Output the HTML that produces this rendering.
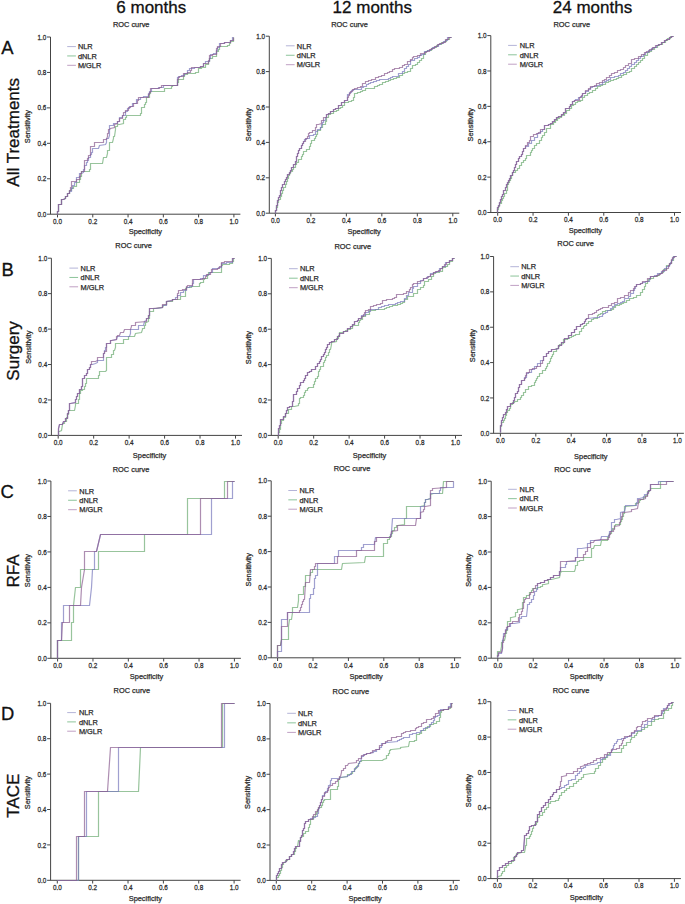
<!DOCTYPE html><html><head><meta charset="utf-8"><style>html,body{margin:0;padding:0;background:#fff;width:685px;height:904px;overflow:hidden}svg{display:block}text{font-family:"Liberation Sans", sans-serif}.s{stroke:#2a2a2a;stroke-width:0.25px}</style></head><body>
<svg width="685" height="904" viewBox="0 0 685 904">
<rect width="685" height="904" fill="#fff"/>
<text x="151.3" y="12.6" font-size="17" text-anchor="middle" fill="#111" stroke="#111" stroke-width="0.3">6 months</text>
<text x="372.3" y="12.6" font-size="17" text-anchor="middle" fill="#111" stroke="#111" stroke-width="0.3">12 months</text>
<text x="592.5" y="12.6" font-size="17" text-anchor="middle" fill="#111" stroke="#111" stroke-width="0.3">24 months</text>
<text x="1.2" y="54.1" font-size="18.4" fill="#111" stroke="#111" stroke-width="0.3">A</text>
<text x="1.5" y="276.0" font-size="18.4" fill="#111" stroke="#111" stroke-width="0.3">B</text>
<text x="0.6" y="497.6" font-size="18.4" fill="#111" stroke="#111" stroke-width="0.3">C</text>
<text x="0.9" y="719.6" font-size="18.4" fill="#111" stroke="#111" stroke-width="0.3">D</text>
<text transform="translate(19.2,132.3) rotate(-90)" x="0" y="0" font-size="17" text-anchor="middle" fill="#111" stroke="#111" stroke-width="0.3">All Treatments</text>
<text transform="translate(19.2,350.9) rotate(-90)" x="0" y="0" font-size="17" text-anchor="middle" fill="#111" stroke="#111" stroke-width="0.3">Surgery</text>
<text transform="translate(19.2,571.0) rotate(-90)" x="0" y="0" font-size="17" text-anchor="middle" fill="#111" stroke="#111" stroke-width="0.3">RFA</text>
<text transform="translate(19.2,795.6) rotate(-90)" x="0" y="0" font-size="17" text-anchor="middle" fill="#111" stroke="#111" stroke-width="0.3">TACE</text>
<g><path d="M50.5 37.0V214.2M47.0 214.2H240.4" stroke="#444" stroke-width="1" fill="none"/><path d="M57.50 214.2V217.39999999999998M47.0 178.76H50.5M92.78 214.2V217.39999999999998M47.0 143.32H50.5M128.06 214.2V217.39999999999998M47.0 107.88H50.5M163.34 214.2V217.39999999999998M47.0 72.44H50.5M198.62 214.2V217.39999999999998M47.0 37.00H50.5M233.90 214.2V217.39999999999998" stroke="#444" stroke-width="1" fill="none"/><text transform="translate(46.30,216.80) scale(0.84,1)" font-size="7.6" text-anchor="end" fill="#2a2a2a" class="s">0.0</text><text transform="translate(57.50,224.00) scale(0.84,1)" font-size="7.6" text-anchor="middle" fill="#2a2a2a" class="s">0.0</text><text transform="translate(46.30,181.36) scale(0.84,1)" font-size="7.6" text-anchor="end" fill="#2a2a2a" class="s">0.2</text><text transform="translate(92.78,224.00) scale(0.84,1)" font-size="7.6" text-anchor="middle" fill="#2a2a2a" class="s">0.2</text><text transform="translate(46.30,145.92) scale(0.84,1)" font-size="7.6" text-anchor="end" fill="#2a2a2a" class="s">0.4</text><text transform="translate(128.06,224.00) scale(0.84,1)" font-size="7.6" text-anchor="middle" fill="#2a2a2a" class="s">0.4</text><text transform="translate(46.30,110.48) scale(0.84,1)" font-size="7.6" text-anchor="end" fill="#2a2a2a" class="s">0.6</text><text transform="translate(163.34,224.00) scale(0.84,1)" font-size="7.6" text-anchor="middle" fill="#2a2a2a" class="s">0.6</text><text transform="translate(46.30,75.04) scale(0.84,1)" font-size="7.6" text-anchor="end" fill="#2a2a2a" class="s">0.8</text><text transform="translate(198.62,224.00) scale(0.84,1)" font-size="7.6" text-anchor="middle" fill="#2a2a2a" class="s">0.8</text><text transform="translate(46.30,39.60) scale(0.84,1)" font-size="7.6" text-anchor="end" fill="#2a2a2a" class="s">1.0</text><text transform="translate(233.90,224.00) scale(0.84,1)" font-size="7.6" text-anchor="middle" fill="#2a2a2a" class="s">1.0</text><text x="145.35" y="234.00" font-size="7.4" text-anchor="middle" fill="#2a2a2a" class="s">Specificity</text><text transform="translate(29.90,126.60) rotate(-90)" font-size="7.4" text-anchor="middle" fill="#2a2a2a" class="s">Sensitivity</text><text x="131.20" y="26.90" font-size="7.4" text-anchor="middle" fill="#2a2a2a" class="s">ROC curve</text><path d="M67.2 46.60H75.9" stroke="#b4b4d8" stroke-width="1" fill="none"/><text x="77.9" y="49.30" font-size="7.4" fill="#2a2a2a" class="s">NLR</text><path d="M67.2 55.95H75.9" stroke="#8cc49a" stroke-width="1" fill="none"/><text x="77.9" y="58.65" font-size="7.4" fill="#2a2a2a" class="s">dNLR</text><path d="M67.2 65.30H75.9" stroke="#c0a0c4" stroke-width="1" fill="none"/><text x="77.9" y="68.00" font-size="7.4" fill="#2a2a2a" class="s">M/GLR</text><path d="M57.5,214.5 57.5,211.5 58.5,211.5 58.5,208.5 58.5,204.5 61.5,204.5 61.5,199.5 63.5,199.5 65.5,198.5 65.5,196.5 67.5,196.5 67.5,193.5 69.5,193.5 69.5,190.5 71.5,190.5 71.5,188.5 73.5,188.5 73.5,186.5 76.5,186.5 76.5,182.5 79.5,182.5 79.5,179.5 80.5,179.5 80.5,176.5 81.5,176.5 81.5,171.5 83.5,171.5 89.5,171.5 89.5,169.5 90.5,169.5 90.5,166.5 90.5,163.5 91.5,163.5 102.5,163.5 103.5,157.5 106.5,157.5 107.5,153.5 107.5,150.5 109.5,150.5 109.5,142.5 112.5,142.5 113.5,138.5 113.5,136.5 114.5,136.5 115.5,129.5 115.5,126.5 117.5,126.5 117.5,124.5 119.5,124.5 123.5,123.5 123.5,119.5 125.5,119.5 125.5,117.5 126.5,117.5 126.5,115.5 127.5,115.5 140.5,115.5 140.5,113.5 141.5,113.5 141.5,110.5 141.5,107.5 144.5,107.5 144.5,104.5 145.5,104.5 145.5,102.5 146.5,102.5 146.5,97.5 149.5,97.5 149.5,93.5 150.5,93.5 150.5,91.5 153.5,91.5 164.5,91.5 164.5,88.5 165.5,88.5 171.5,88.5 171.5,86.5 172.5,86.5 172.5,85.5 174.5,85.5 177.5,85.5 177.5,82.5 178.5,82.5 178.5,79.5 180.5,79.5 183.5,79.5 183.5,76.5 184.5,76.5 184.5,74.5 187.5,74.5 187.5,73.5 189.5,73.5 192.5,73.5 195.5,73.5 195.5,72.5 198.5,72.5 198.5,68.5 201.5,68.5 201.5,67.5 205.5,67.5 205.5,64.5 207.5,64.5 208.5,64.5 208.5,61.5 209.5,61.5 209.5,58.5 212.5,58.5 212.5,56.5 216.5,56.5 216.5,51.5 218.5,51.5 218.5,49.5 219.5,49.5 219.5,46.5 221.5,46.5 224.5,46.5 227.5,46.5 227.5,45.5 229.5,45.5 229.5,43.5 230.5,43.5 230.5,41.5 233.5,41.5 233.5,37.5" stroke="#6cab72" stroke-width="1.2" fill="none" stroke-linejoin="miter" opacity="0.7"/><path d="M57.5,214.5 57.5,211.5 58.5,211.5 58.5,208.5 58.5,204.5 61.5,204.5 61.5,199.5 63.5,199.5 65.5,198.5 65.5,196.5 67.5,196.5 67.5,193.5 69.5,193.5 69.5,191.5 71.5,191.5 71.5,188.5 72.5,188.5 72.5,185.5 74.5,185.5 74.5,182.5 76.5,182.5 76.5,177.5 79.5,177.5 79.5,173.5 81.5,173.5 83.5,172.5 83.5,169.5 84.5,169.5 84.5,165.5 86.5,165.5 86.5,162.5 87.5,162.5 87.5,160.5 88.5,160.5 88.5,157.5 90.5,157.5 90.5,154.5 91.5,154.5 91.5,152.5 92.5,152.5 92.5,148.5 94.5,148.5 98.5,148.5 99.5,145.5 105.5,144.5 106.5,142.5 106.5,138.5 108.5,138.5 109.5,135.5 109.5,129.5 109.5,125.5 113.5,125.5 113.5,123.5 117.5,123.5 117.5,121.5 119.5,121.5 119.5,117.5 122.5,117.5 122.5,115.5 125.5,115.5 125.5,111.5 127.5,111.5 127.5,108.5 129.5,108.5 129.5,106.5 132.5,106.5 132.5,103.5 136.5,103.5 136.5,99.5 140.5,99.5 140.5,97.5 143.5,97.5 143.5,96.5 145.5,96.5 148.5,96.5 148.5,93.5 149.5,93.5 149.5,91.5 151.5,91.5 151.5,88.5 155.5,88.5 158.5,88.5 158.5,87.5 160.5,87.5 163.5,87.5 163.5,85.5 165.5,85.5 177.5,85.5 177.5,81.5 177.5,77.5 178.5,77.5 178.5,76.5 181.5,76.5 181.5,75.5 184.5,75.5 184.5,73.5 187.5,73.5 187.5,70.5 189.5,70.5 189.5,68.5 192.5,68.5 194.5,68.5 194.5,67.5 197.5,67.5 200.5,67.5 200.5,66.5 203.5,66.5 203.5,63.5 205.5,63.5 205.5,61.5 209.5,61.5 209.5,58.5 210.5,58.5 210.5,56.5 210.5,54.5 213.5,54.5 213.5,53.5 216.5,53.5 216.5,50.5 217.5,50.5 217.5,47.5 219.5,47.5 219.5,43.5 221.5,43.5 224.5,43.5 224.5,42.5 227.5,42.5 230.5,42.5 230.5,40.5 232.5,40.5 232.5,37.5 233.5,37.5" stroke="#7777bc" stroke-width="1.2" fill="none" stroke-linejoin="miter" opacity="0.7"/><path d="M57.5,214.5 57.5,211.5 58.5,211.5 58.5,208.5 58.5,204.5 61.5,204.5 61.5,199.5 63.5,199.5 65.5,198.5 65.5,196.5 67.5,196.5 67.5,193.5 69.5,193.5 69.5,190.5 70.5,190.5 70.5,187.5 71.5,187.5 71.5,184.5 71.5,181.5 72.5,181.5 76.5,181.5 76.5,179.5 79.5,179.5 79.5,176.5 80.5,176.5 80.5,173.5 81.5,173.5 81.5,171.5 84.5,171.5 84.5,160.5 87.5,160.5 87.5,158.5 88.5,158.5 88.5,155.5 90.5,155.5 90.5,148.5 90.5,146.5 94.5,146.5 94.5,142.5 95.5,142.5 103.5,142.5 103.5,139.5 106.5,139.5 107.5,136.5 107.5,133.5 108.5,133.5 108.5,129.5 109.5,129.5 110.5,128.5 114.5,127.5 114.5,124.5 117.5,123.5 117.5,121.5 119.5,121.5 119.5,118.5 122.5,118.5 122.5,115.5 123.5,115.5 123.5,112.5 125.5,112.5 125.5,110.5 128.5,110.5 128.5,107.5 130.5,107.5 130.5,106.5 133.5,106.5 133.5,103.5 134.5,103.5 137.5,103.5 137.5,100.5 138.5,100.5 138.5,97.5 141.5,97.5 145.5,97.5 148.5,97.5 148.5,94.5 149.5,94.5 149.5,92.5 150.5,92.5 150.5,88.5 154.5,88.5 156.5,88.5 159.5,88.5 159.5,87.5 161.5,87.5 161.5,85.5 162.5,85.5 177.5,85.5 177.5,82.5 177.5,79.5 178.5,79.5 178.5,77.5 179.5,77.5 179.5,76.5 183.5,76.5 183.5,73.5 184.5,73.5 187.5,73.5 187.5,72.5 190.5,72.5 190.5,70.5 191.5,70.5 191.5,67.5 192.5,67.5 194.5,67.5 197.5,67.5 200.5,67.5 200.5,66.5 203.5,66.5 203.5,64.5 203.5,63.5 206.5,63.5 208.5,63.5 208.5,60.5 209.5,60.5 209.5,57.5 209.5,55.5 212.5,55.5 212.5,54.5 216.5,54.5 216.5,51.5 216.5,48.5 217.5,48.5 217.5,46.5 220.5,46.5 220.5,43.5 221.5,43.5 224.5,43.5 224.5,42.5 227.5,42.5 230.5,42.5 230.5,40.5 233.5,40.5 233.5,37.5" stroke="#8a5c90" stroke-width="1.2" fill="none" stroke-linejoin="miter" opacity="0.7"/></g>
<g><path d="M269.3 36.2V213.2M265.8 213.2H459.3" stroke="#444" stroke-width="1" fill="none"/><path d="M275.40 213.2V216.39999999999998M265.8 177.80H269.3M310.88 213.2V216.39999999999998M265.8 142.40H269.3M346.36 213.2V216.39999999999998M265.8 107.00H269.3M381.84 213.2V216.39999999999998M265.8 71.60H269.3M417.32 213.2V216.39999999999998M265.8 36.20H269.3M452.80 213.2V216.39999999999998" stroke="#444" stroke-width="1" fill="none"/><text transform="translate(265.10,215.80) scale(0.84,1)" font-size="7.6" text-anchor="end" fill="#2a2a2a" class="s">0.0</text><text transform="translate(275.40,223.00) scale(0.84,1)" font-size="7.6" text-anchor="middle" fill="#2a2a2a" class="s">0.0</text><text transform="translate(265.10,180.40) scale(0.84,1)" font-size="7.6" text-anchor="end" fill="#2a2a2a" class="s">0.2</text><text transform="translate(310.88,223.00) scale(0.84,1)" font-size="7.6" text-anchor="middle" fill="#2a2a2a" class="s">0.2</text><text transform="translate(265.10,145.00) scale(0.84,1)" font-size="7.6" text-anchor="end" fill="#2a2a2a" class="s">0.4</text><text transform="translate(346.36,223.00) scale(0.84,1)" font-size="7.6" text-anchor="middle" fill="#2a2a2a" class="s">0.4</text><text transform="translate(265.10,109.60) scale(0.84,1)" font-size="7.6" text-anchor="end" fill="#2a2a2a" class="s">0.6</text><text transform="translate(381.84,223.00) scale(0.84,1)" font-size="7.6" text-anchor="middle" fill="#2a2a2a" class="s">0.6</text><text transform="translate(265.10,74.20) scale(0.84,1)" font-size="7.6" text-anchor="end" fill="#2a2a2a" class="s">0.8</text><text transform="translate(417.32,223.00) scale(0.84,1)" font-size="7.6" text-anchor="middle" fill="#2a2a2a" class="s">0.8</text><text transform="translate(265.10,38.80) scale(0.84,1)" font-size="7.6" text-anchor="end" fill="#2a2a2a" class="s">1.0</text><text transform="translate(452.80,223.00) scale(0.84,1)" font-size="7.6" text-anchor="middle" fill="#2a2a2a" class="s">1.0</text><text x="364.15" y="233.80" font-size="7.4" text-anchor="middle" fill="#2a2a2a" class="s">Specificity</text><text transform="translate(251.30,124.65) rotate(-90)" font-size="7.4" text-anchor="middle" fill="#2a2a2a" class="s">Sensitivity</text><text x="349.55" y="26.90" font-size="7.4" text-anchor="middle" fill="#2a2a2a" class="s">ROC curve</text><path d="M285.9 45.80H294.59999999999997" stroke="#b4b4d8" stroke-width="1" fill="none"/><text x="296.8" y="48.50" font-size="7.4" fill="#2a2a2a" class="s">NLR</text><path d="M285.9 55.25H294.59999999999997" stroke="#8cc49a" stroke-width="1" fill="none"/><text x="296.8" y="57.95" font-size="7.4" fill="#2a2a2a" class="s">dNLR</text><path d="M285.9 64.70H294.59999999999997" stroke="#c0a0c4" stroke-width="1" fill="none"/><text x="296.8" y="67.40" font-size="7.4" fill="#2a2a2a" class="s">M/GLR</text><path d="M275.5,213.5 275.5,210.5 276.5,210.5 276.5,207.5 277.5,207.5 277.5,205.5 277.5,202.5 278.5,202.5 278.5,199.5 280.5,199.5 280.5,196.5 281.5,196.5 281.5,193.5 282.5,193.5 282.5,190.5 283.5,190.5 283.5,187.5 285.5,187.5 285.5,184.5 286.5,184.5 286.5,181.5 287.5,181.5 287.5,178.5 288.5,178.5 288.5,175.5 289.5,175.5 289.5,173.5 290.5,173.5 290.5,171.5 292.5,171.5 292.5,169.5 293.5,169.5 293.5,167.5 295.5,167.5 295.5,164.5 296.5,164.5 296.5,162.5 298.5,162.5 298.5,159.5 301.5,159.5 301.5,156.5 302.5,156.5 302.5,154.5 303.5,154.5 303.5,151.5 306.5,151.5 306.5,149.5 309.5,149.5 309.5,146.5 310.5,146.5 310.5,143.5 311.5,143.5 311.5,140.5 314.5,140.5 314.5,138.5 315.5,138.5 315.5,136.5 316.5,136.5 316.5,134.5 317.5,134.5 317.5,130.5 320.5,130.5 320.5,127.5 322.5,127.5 322.5,124.5 325.5,124.5 325.5,121.5 326.5,121.5 326.5,117.5 328.5,117.5 328.5,114.5 330.5,114.5 330.5,113.5 333.5,113.5 333.5,111.5 336.5,111.5 336.5,110.5 338.5,110.5 338.5,108.5 340.5,108.5 340.5,107.5 342.5,107.5 342.5,105.5 344.5,105.5 344.5,102.5 348.5,102.5 348.5,101.5 351.5,101.5 351.5,100.5 353.5,100.5 353.5,97.5 354.5,97.5 354.5,95.5 354.5,93.5 357.5,93.5 357.5,92.5 360.5,92.5 360.5,91.5 362.5,91.5 362.5,90.5 365.5,90.5 365.5,88.5 368.5,88.5 374.5,88.5 374.5,86.5 375.5,86.5 377.5,86.5 377.5,85.5 379.5,85.5 379.5,84.5 382.5,84.5 382.5,82.5 385.5,82.5 385.5,81.5 388.5,81.5 388.5,80.5 390.5,80.5 390.5,79.5 393.5,79.5 393.5,78.5 396.5,78.5 396.5,77.5 399.5,77.5 399.5,75.5 402.5,75.5 402.5,73.5 404.5,73.5 404.5,72.5 407.5,72.5 407.5,71.5 410.5,71.5 410.5,68.5 412.5,68.5 412.5,65.5 415.5,65.5 415.5,64.5 417.5,64.5 417.5,62.5 419.5,62.5 419.5,60.5 421.5,60.5 421.5,58.5 423.5,58.5 423.5,54.5 425.5,54.5 425.5,51.5 427.5,51.5 427.5,50.5 431.5,50.5 431.5,48.5 433.5,48.5 433.5,47.5 436.5,47.5 436.5,45.5 438.5,45.5 438.5,44.5 441.5,44.5 441.5,42.5 444.5,42.5 444.5,41.5 446.5,41.5 446.5,39.5 449.5,39.5 449.5,37.5 451.5,37.5" stroke="#6cab72" stroke-width="1.2" fill="none" stroke-linejoin="miter" opacity="0.7"/><path d="M275.5,213.5 275.5,210.5 276.5,210.5 276.5,207.5 276.5,205.5 277.5,205.5 277.5,202.5 277.5,200.5 278.5,200.5 278.5,197.5 279.5,197.5 279.5,195.5 280.5,195.5 280.5,192.5 280.5,190.5 281.5,190.5 281.5,187.5 282.5,187.5 282.5,184.5 284.5,184.5 284.5,181.5 285.5,181.5 285.5,179.5 286.5,179.5 286.5,177.5 287.5,177.5 287.5,174.5 289.5,174.5 289.5,172.5 290.5,172.5 290.5,170.5 291.5,170.5 291.5,167.5 293.5,167.5 293.5,164.5 295.5,164.5 295.5,161.5 296.5,161.5 296.5,158.5 296.5,156.5 297.5,156.5 297.5,153.5 298.5,153.5 298.5,150.5 299.5,150.5 299.5,148.5 301.5,148.5 301.5,145.5 302.5,145.5 302.5,143.5 303.5,143.5 303.5,141.5 304.5,141.5 304.5,139.5 306.5,139.5 306.5,138.5 309.5,138.5 309.5,135.5 311.5,135.5 313.5,135.5 313.5,134.5 315.5,134.5 315.5,131.5 317.5,131.5 317.5,129.5 320.5,129.5 320.5,127.5 321.5,127.5 321.5,124.5 322.5,124.5 322.5,122.5 323.5,122.5 323.5,120.5 325.5,120.5 325.5,117.5 326.5,117.5 326.5,114.5 328.5,114.5 328.5,113.5 330.5,113.5 330.5,111.5 333.5,111.5 333.5,109.5 335.5,109.5 335.5,108.5 338.5,108.5 338.5,105.5 341.5,105.5 341.5,102.5 344.5,102.5 344.5,100.5 347.5,100.5 347.5,96.5 347.5,94.5 349.5,94.5 349.5,92.5 351.5,92.5 351.5,90.5 353.5,90.5 353.5,89.5 355.5,89.5 361.5,89.5 361.5,87.5 363.5,87.5 363.5,86.5 366.5,86.5 366.5,84.5 368.5,84.5 368.5,83.5 370.5,83.5 370.5,82.5 373.5,82.5 373.5,81.5 376.5,81.5 376.5,80.5 379.5,80.5 379.5,79.5 382.5,79.5 385.5,79.5 388.5,79.5 388.5,78.5 390.5,78.5 390.5,77.5 392.5,77.5 392.5,76.5 395.5,76.5 398.5,76.5 398.5,73.5 402.5,73.5 402.5,71.5 404.5,71.5 404.5,68.5 406.5,68.5 406.5,66.5 408.5,66.5 408.5,64.5 410.5,64.5 410.5,60.5 414.5,60.5 414.5,58.5 417.5,58.5 417.5,57.5 419.5,57.5 419.5,55.5 421.5,55.5 421.5,54.5 424.5,54.5 424.5,51.5 427.5,51.5 427.5,50.5 430.5,50.5 430.5,49.5 432.5,49.5 432.5,47.5 435.5,47.5 435.5,46.5 438.5,46.5 438.5,44.5 440.5,44.5 440.5,43.5 443.5,43.5 443.5,41.5 445.5,41.5 445.5,40.5 447.5,40.5 447.5,37.5 451.5,37.5" stroke="#7777bc" stroke-width="1.2" fill="none" stroke-linejoin="miter" opacity="0.7"/><path d="M275.5,213.5 275.5,210.5 276.5,210.5 276.5,207.5 276.5,205.5 277.5,205.5 277.5,202.5 277.5,200.5 278.5,200.5 278.5,197.5 279.5,197.5 279.5,195.5 280.5,195.5 280.5,192.5 280.5,190.5 281.5,190.5 281.5,187.5 282.5,187.5 282.5,184.5 284.5,184.5 284.5,181.5 285.5,181.5 285.5,179.5 286.5,179.5 286.5,177.5 287.5,177.5 287.5,174.5 289.5,174.5 289.5,172.5 290.5,172.5 290.5,170.5 291.5,170.5 291.5,167.5 293.5,167.5 293.5,164.5 295.5,164.5 295.5,161.5 296.5,161.5 296.5,158.5 296.5,156.5 297.5,156.5 297.5,153.5 298.5,153.5 298.5,150.5 299.5,150.5 299.5,148.5 301.5,148.5 301.5,145.5 302.5,145.5 302.5,143.5 303.5,143.5 303.5,141.5 305.5,141.5 305.5,138.5 307.5,138.5 307.5,136.5 308.5,136.5 308.5,133.5 309.5,133.5 309.5,132.5 312.5,132.5 312.5,130.5 315.5,130.5 315.5,127.5 316.5,127.5 316.5,124.5 318.5,124.5 321.5,123.5 321.5,120.5 323.5,120.5 323.5,117.5 326.5,117.5 326.5,114.5 328.5,114.5 328.5,113.5 330.5,113.5 330.5,111.5 333.5,111.5 333.5,109.5 335.5,109.5 335.5,108.5 338.5,108.5 338.5,105.5 341.5,105.5 341.5,102.5 344.5,102.5 344.5,100.5 347.5,100.5 347.5,97.5 348.5,97.5 348.5,95.5 349.5,95.5 349.5,93.5 350.5,93.5 350.5,91.5 352.5,91.5 352.5,89.5 354.5,89.5 354.5,88.5 357.5,88.5 357.5,87.5 360.5,87.5 360.5,86.5 362.5,86.5 362.5,83.5 365.5,83.5 365.5,81.5 368.5,81.5 368.5,80.5 371.5,80.5 371.5,79.5 375.5,79.5 375.5,77.5 378.5,77.5 378.5,76.5 381.5,76.5 381.5,75.5 384.5,75.5 384.5,73.5 387.5,73.5 387.5,72.5 389.5,72.5 389.5,71.5 392.5,71.5 392.5,69.5 394.5,69.5 394.5,68.5 396.5,68.5 399.5,68.5 399.5,67.5 402.5,67.5 402.5,65.5 404.5,65.5 404.5,64.5 407.5,64.5 407.5,61.5 410.5,61.5 410.5,59.5 412.5,59.5 412.5,57.5 413.5,57.5 413.5,56.5 417.5,56.5 417.5,55.5 420.5,55.5 420.5,53.5 424.5,53.5 424.5,52.5 426.5,52.5 426.5,51.5 429.5,51.5 429.5,49.5 431.5,49.5 431.5,48.5 434.5,48.5 434.5,46.5 437.5,46.5 437.5,44.5 439.5,44.5 439.5,43.5 442.5,43.5 442.5,42.5 445.5,42.5 445.5,39.5 448.5,39.5 448.5,37.5 451.5,37.5" stroke="#8a5c90" stroke-width="1.2" fill="none" stroke-linejoin="miter" opacity="0.7"/></g>
<g><path d="M490.8 35.6V212.5M487.3 212.5H681.0" stroke="#444" stroke-width="1" fill="none"/><path d="M497.70 212.5V215.7M487.3 177.12H490.8M533.06 212.5V215.7M487.3 141.74H490.8M568.42 212.5V215.7M487.3 106.36H490.8M603.78 212.5V215.7M487.3 70.98H490.8M639.14 212.5V215.7M487.3 35.60H490.8M674.50 212.5V215.7" stroke="#444" stroke-width="1" fill="none"/><text transform="translate(486.60,215.10) scale(0.84,1)" font-size="7.6" text-anchor="end" fill="#2a2a2a" class="s">0.0</text><text transform="translate(497.70,222.30) scale(0.84,1)" font-size="7.6" text-anchor="middle" fill="#2a2a2a" class="s">0.0</text><text transform="translate(486.60,179.72) scale(0.84,1)" font-size="7.6" text-anchor="end" fill="#2a2a2a" class="s">0.2</text><text transform="translate(533.06,222.30) scale(0.84,1)" font-size="7.6" text-anchor="middle" fill="#2a2a2a" class="s">0.2</text><text transform="translate(486.60,144.34) scale(0.84,1)" font-size="7.6" text-anchor="end" fill="#2a2a2a" class="s">0.4</text><text transform="translate(568.42,222.30) scale(0.84,1)" font-size="7.6" text-anchor="middle" fill="#2a2a2a" class="s">0.4</text><text transform="translate(486.60,108.96) scale(0.84,1)" font-size="7.6" text-anchor="end" fill="#2a2a2a" class="s">0.6</text><text transform="translate(603.78,222.30) scale(0.84,1)" font-size="7.6" text-anchor="middle" fill="#2a2a2a" class="s">0.6</text><text transform="translate(486.60,73.58) scale(0.84,1)" font-size="7.6" text-anchor="end" fill="#2a2a2a" class="s">0.8</text><text transform="translate(639.14,222.30) scale(0.84,1)" font-size="7.6" text-anchor="middle" fill="#2a2a2a" class="s">0.8</text><text transform="translate(486.60,38.20) scale(0.84,1)" font-size="7.6" text-anchor="end" fill="#2a2a2a" class="s">1.0</text><text transform="translate(674.50,222.30) scale(0.84,1)" font-size="7.6" text-anchor="middle" fill="#2a2a2a" class="s">1.0</text><text x="585.35" y="232.70" font-size="7.4" text-anchor="middle" fill="#2a2a2a" class="s">Specificity</text><text transform="translate(472.70,124.80) rotate(-90)" font-size="7.4" text-anchor="middle" fill="#2a2a2a" class="s">Sensitivity</text><text x="571.75" y="27.20" font-size="7.4" text-anchor="middle" fill="#2a2a2a" class="s">ROC curve</text><path d="M508.1 45.40H516.8000000000001" stroke="#b4b4d8" stroke-width="1" fill="none"/><text x="519.7" y="48.10" font-size="7.4" fill="#2a2a2a" class="s">NLR</text><path d="M508.1 54.80H516.8000000000001" stroke="#8cc49a" stroke-width="1" fill="none"/><text x="519.7" y="57.50" font-size="7.4" fill="#2a2a2a" class="s">dNLR</text><path d="M508.1 64.20H516.8000000000001" stroke="#c0a0c4" stroke-width="1" fill="none"/><text x="519.7" y="66.90" font-size="7.4" fill="#2a2a2a" class="s">M/GLR</text><path d="M497.5,212.5 497.5,209.5 498.5,209.5 498.5,206.5 499.5,206.5 499.5,203.5 501.5,203.5 501.5,200.5 502.5,200.5 502.5,198.5 503.5,198.5 503.5,196.5 504.5,196.5 504.5,193.5 506.5,193.5 506.5,190.5 507.5,190.5 507.5,187.5 507.5,184.5 508.5,184.5 508.5,182.5 509.5,182.5 509.5,180.5 510.5,180.5 510.5,178.5 511.5,178.5 511.5,175.5 512.5,175.5 512.5,172.5 515.5,172.5 515.5,170.5 517.5,170.5 517.5,168.5 519.5,168.5 519.5,165.5 521.5,165.5 521.5,162.5 523.5,162.5 523.5,160.5 525.5,160.5 525.5,158.5 526.5,158.5 526.5,155.5 530.5,155.5 530.5,152.5 531.5,152.5 531.5,150.5 532.5,150.5 532.5,148.5 534.5,148.5 534.5,145.5 536.5,145.5 536.5,143.5 539.5,143.5 539.5,140.5 541.5,140.5 541.5,137.5 542.5,137.5 542.5,135.5 544.5,135.5 544.5,132.5 546.5,132.5 546.5,128.5 550.5,128.5 550.5,124.5 553.5,124.5 553.5,122.5 555.5,122.5 555.5,120.5 557.5,120.5 557.5,118.5 559.5,118.5 559.5,117.5 561.5,117.5 561.5,115.5 564.5,115.5 564.5,113.5 566.5,113.5 566.5,110.5 569.5,110.5 569.5,108.5 571.5,108.5 571.5,105.5 573.5,105.5 573.5,104.5 575.5,104.5 575.5,102.5 577.5,102.5 577.5,101.5 580.5,101.5 580.5,100.5 582.5,100.5 582.5,97.5 584.5,97.5 584.5,95.5 587.5,95.5 587.5,93.5 589.5,93.5 589.5,92.5 592.5,92.5 592.5,90.5 595.5,90.5 595.5,88.5 597.5,88.5 597.5,86.5 600.5,86.5 600.5,85.5 602.5,85.5 602.5,84.5 605.5,84.5 605.5,82.5 608.5,82.5 608.5,81.5 610.5,81.5 610.5,80.5 613.5,80.5 613.5,79.5 616.5,79.5 616.5,78.5 618.5,78.5 618.5,77.5 621.5,77.5 621.5,75.5 623.5,75.5 623.5,74.5 626.5,74.5 626.5,72.5 629.5,72.5 629.5,71.5 631.5,71.5 631.5,68.5 634.5,68.5 634.5,66.5 636.5,66.5 636.5,64.5 638.5,64.5 638.5,62.5 640.5,62.5 640.5,60.5 642.5,60.5 642.5,58.5 644.5,58.5 644.5,55.5 647.5,55.5 647.5,52.5 649.5,52.5 649.5,51.5 651.5,51.5 651.5,49.5 654.5,49.5 654.5,47.5 657.5,47.5 657.5,45.5 659.5,45.5 659.5,44.5 662.5,44.5 662.5,42.5 665.5,42.5 665.5,40.5 667.5,40.5 667.5,38.5 670.5,38.5 670.5,36.5 673.5,36.5" stroke="#6cab72" stroke-width="1.2" fill="none" stroke-linejoin="miter" opacity="0.7"/><path d="M497.5,212.5 497.5,209.5 497.5,207.5 498.5,207.5 498.5,205.5 499.5,205.5 499.5,202.5 500.5,202.5 500.5,199.5 501.5,199.5 501.5,196.5 502.5,196.5 502.5,194.5 503.5,194.5 503.5,190.5 505.5,190.5 505.5,187.5 506.5,187.5 506.5,184.5 507.5,184.5 507.5,182.5 508.5,182.5 508.5,180.5 509.5,180.5 509.5,178.5 510.5,178.5 510.5,175.5 512.5,175.5 512.5,172.5 513.5,172.5 513.5,170.5 514.5,170.5 514.5,167.5 515.5,167.5 515.5,164.5 516.5,164.5 516.5,161.5 518.5,161.5 518.5,158.5 519.5,158.5 519.5,156.5 521.5,156.5 521.5,154.5 522.5,154.5 522.5,151.5 523.5,151.5 523.5,148.5 525.5,148.5 525.5,146.5 528.5,146.5 528.5,143.5 531.5,143.5 531.5,140.5 534.5,140.5 534.5,137.5 537.5,137.5 537.5,133.5 540.5,133.5 540.5,131.5 542.5,131.5 542.5,129.5 544.5,129.5 544.5,125.5 548.5,125.5 548.5,124.5 550.5,124.5 550.5,123.5 552.5,123.5 552.5,121.5 554.5,121.5 554.5,119.5 556.5,119.5 556.5,117.5 558.5,117.5 558.5,116.5 561.5,116.5 561.5,114.5 563.5,114.5 563.5,112.5 565.5,112.5 565.5,108.5 569.5,108.5 569.5,106.5 570.5,106.5 570.5,104.5 572.5,104.5 572.5,101.5 574.5,101.5 574.5,100.5 575.5,100.5 575.5,99.5 578.5,99.5 578.5,97.5 580.5,97.5 580.5,96.5 582.5,96.5 582.5,93.5 585.5,93.5 585.5,91.5 588.5,91.5 588.5,89.5 590.5,89.5 590.5,87.5 592.5,87.5 592.5,86.5 594.5,86.5 596.5,86.5 596.5,85.5 599.5,85.5 599.5,84.5 602.5,84.5 602.5,82.5 604.5,82.5 604.5,81.5 606.5,81.5 606.5,80.5 608.5,80.5 608.5,79.5 610.5,79.5 610.5,77.5 614.5,77.5 614.5,76.5 616.5,76.5 618.5,76.5 618.5,75.5 620.5,75.5 620.5,73.5 623.5,73.5 623.5,72.5 625.5,72.5 625.5,70.5 627.5,70.5 627.5,68.5 629.5,68.5 629.5,66.5 631.5,66.5 631.5,64.5 634.5,64.5 634.5,62.5 636.5,62.5 636.5,60.5 638.5,60.5 638.5,58.5 640.5,58.5 640.5,56.5 643.5,56.5 643.5,54.5 645.5,54.5 645.5,52.5 648.5,52.5 648.5,50.5 651.5,50.5 651.5,48.5 653.5,48.5 653.5,47.5 656.5,47.5 656.5,45.5 658.5,45.5 658.5,44.5 661.5,44.5 661.5,42.5 664.5,42.5 664.5,40.5 666.5,40.5 666.5,39.5 669.5,39.5 669.5,37.5 671.5,37.5 671.5,36.5 673.5,36.5" stroke="#7777bc" stroke-width="1.2" fill="none" stroke-linejoin="miter" opacity="0.7"/><path d="M497.5,212.5 497.5,209.5 497.5,207.5 498.5,207.5 498.5,205.5 499.5,205.5 499.5,202.5 500.5,202.5 500.5,199.5 501.5,199.5 501.5,196.5 502.5,196.5 502.5,194.5 503.5,194.5 503.5,190.5 505.5,190.5 505.5,187.5 506.5,187.5 506.5,184.5 507.5,184.5 507.5,182.5 508.5,182.5 508.5,180.5 509.5,180.5 509.5,178.5 510.5,178.5 510.5,175.5 512.5,175.5 512.5,172.5 513.5,172.5 513.5,170.5 514.5,170.5 514.5,167.5 515.5,167.5 515.5,164.5 516.5,164.5 516.5,161.5 518.5,161.5 518.5,158.5 519.5,158.5 519.5,156.5 521.5,156.5 521.5,154.5 522.5,154.5 522.5,151.5 523.5,151.5 523.5,148.5 525.5,148.5 525.5,145.5 527.5,145.5 527.5,142.5 529.5,142.5 529.5,140.5 530.5,140.5 530.5,136.5 533.5,136.5 533.5,134.5 536.5,134.5 536.5,133.5 538.5,133.5 538.5,132.5 540.5,132.5 540.5,129.5 544.5,129.5 544.5,125.5 548.5,125.5 548.5,124.5 550.5,124.5 550.5,123.5 552.5,123.5 552.5,121.5 554.5,121.5 554.5,119.5 556.5,119.5 556.5,117.5 558.5,117.5 558.5,116.5 561.5,116.5 561.5,114.5 563.5,114.5 563.5,112.5 565.5,112.5 565.5,108.5 569.5,108.5 569.5,106.5 570.5,106.5 570.5,104.5 572.5,104.5 572.5,101.5 574.5,101.5 574.5,100.5 575.5,100.5 579.5,100.5 579.5,97.5 581.5,97.5 581.5,95.5 582.5,95.5 582.5,93.5 585.5,93.5 585.5,90.5 588.5,90.5 588.5,88.5 590.5,88.5 590.5,86.5 592.5,86.5 594.5,86.5 594.5,85.5 596.5,85.5 596.5,83.5 599.5,83.5 599.5,82.5 602.5,82.5 602.5,80.5 604.5,80.5 604.5,79.5 606.5,79.5 606.5,77.5 609.5,77.5 609.5,75.5 611.5,75.5 611.5,73.5 614.5,73.5 614.5,72.5 617.5,72.5 617.5,70.5 620.5,70.5 620.5,69.5 623.5,69.5 623.5,67.5 625.5,67.5 625.5,65.5 628.5,65.5 628.5,63.5 631.5,63.5 631.5,59.5 634.5,59.5 634.5,58.5 636.5,58.5 638.5,58.5 638.5,56.5 641.5,56.5 641.5,54.5 644.5,54.5 644.5,52.5 646.5,52.5 646.5,51.5 649.5,51.5 649.5,49.5 652.5,49.5 652.5,47.5 655.5,47.5 655.5,45.5 658.5,45.5 658.5,44.5 661.5,44.5 661.5,42.5 664.5,42.5 664.5,40.5 666.5,40.5 666.5,39.5 669.5,39.5 669.5,37.5 671.5,37.5 671.5,36.5 673.5,36.5" stroke="#8a5c90" stroke-width="1.2" fill="none" stroke-linejoin="miter" opacity="0.7"/></g>
<g><path d="M51.4 258.2V435.4M47.9 435.4H242.0" stroke="#444" stroke-width="1" fill="none"/><path d="M58.20 435.4V438.59999999999997M47.9 399.96H51.4M93.66 435.4V438.59999999999997M47.9 364.52H51.4M129.12 435.4V438.59999999999997M47.9 329.08H51.4M164.58 435.4V438.59999999999997M47.9 293.64H51.4M200.04 435.4V438.59999999999997M47.9 258.20H51.4M235.50 435.4V438.59999999999997" stroke="#444" stroke-width="1" fill="none"/><text transform="translate(47.20,438.00) scale(0.84,1)" font-size="7.6" text-anchor="end" fill="#2a2a2a" class="s">0.0</text><text transform="translate(58.20,445.20) scale(0.84,1)" font-size="7.6" text-anchor="middle" fill="#2a2a2a" class="s">0.0</text><text transform="translate(47.20,402.56) scale(0.84,1)" font-size="7.6" text-anchor="end" fill="#2a2a2a" class="s">0.2</text><text transform="translate(93.66,445.20) scale(0.84,1)" font-size="7.6" text-anchor="middle" fill="#2a2a2a" class="s">0.2</text><text transform="translate(47.20,367.12) scale(0.84,1)" font-size="7.6" text-anchor="end" fill="#2a2a2a" class="s">0.4</text><text transform="translate(129.12,445.20) scale(0.84,1)" font-size="7.6" text-anchor="middle" fill="#2a2a2a" class="s">0.4</text><text transform="translate(47.20,331.68) scale(0.84,1)" font-size="7.6" text-anchor="end" fill="#2a2a2a" class="s">0.6</text><text transform="translate(164.58,445.20) scale(0.84,1)" font-size="7.6" text-anchor="middle" fill="#2a2a2a" class="s">0.6</text><text transform="translate(47.20,296.24) scale(0.84,1)" font-size="7.6" text-anchor="end" fill="#2a2a2a" class="s">0.8</text><text transform="translate(200.04,445.20) scale(0.84,1)" font-size="7.6" text-anchor="middle" fill="#2a2a2a" class="s">0.8</text><text transform="translate(47.20,260.80) scale(0.84,1)" font-size="7.6" text-anchor="end" fill="#2a2a2a" class="s">1.0</text><text transform="translate(235.50,445.20) scale(0.84,1)" font-size="7.6" text-anchor="middle" fill="#2a2a2a" class="s">1.0</text><text x="149.50" y="457.50" font-size="7.4" text-anchor="middle" fill="#2a2a2a" class="s">Specificity</text><text transform="translate(30.70,347.20) rotate(-90)" font-size="7.4" text-anchor="middle" fill="#2a2a2a" class="s">Sensitivity</text><text x="133.60" y="248.00" font-size="7.4" text-anchor="middle" fill="#2a2a2a" class="s">ROC curve</text><path d="M69.4 268.10H78.10000000000001" stroke="#b4b4d8" stroke-width="1" fill="none"/><text x="80.6" y="270.80" font-size="7.4" fill="#2a2a2a" class="s">NLR</text><path d="M69.4 277.45H78.10000000000001" stroke="#8cc49a" stroke-width="1" fill="none"/><text x="80.6" y="280.15" font-size="7.4" fill="#2a2a2a" class="s">dNLR</text><path d="M69.4 286.80H78.10000000000001" stroke="#c0a0c4" stroke-width="1" fill="none"/><text x="80.6" y="289.50" font-size="7.4" fill="#2a2a2a" class="s">M/GLR</text><path d="M58.5,435.5 58.5,431.5 59.5,431.5 61.5,430.5 62.5,424.5 62.5,423.5 64.5,423.5 64.5,421.5 66.5,421.5 66.5,417.5 67.5,417.5 67.5,414.5 68.5,414.5 68.5,410.5 71.5,410.5 74.5,410.5 75.5,405.5 75.5,403.5 78.5,403.5 78.5,399.5 79.5,399.5 79.5,396.5 79.5,393.5 80.5,393.5 80.5,390.5 82.5,390.5 82.5,389.5 84.5,389.5 84.5,386.5 85.5,386.5 85.5,383.5 86.5,383.5 86.5,378.5 87.5,378.5 98.5,378.5 98.5,375.5 99.5,375.5 99.5,371.5 100.5,371.5 105.5,371.5 106.5,370.5 106.5,358.5 106.5,357.5 109.5,357.5 111.5,357.5 111.5,354.5 113.5,354.5 113.5,350.5 114.5,350.5 115.5,347.5 115.5,343.5 117.5,343.5 123.5,343.5 123.5,339.5 124.5,339.5 128.5,339.5 128.5,336.5 134.5,336.5 135.5,333.5 141.5,332.5 142.5,329.5 142.5,328.5 144.5,328.5 144.5,325.5 145.5,325.5 145.5,322.5 146.5,322.5 148.5,321.5 148.5,318.5 149.5,318.5 149.5,315.5 149.5,311.5 151.5,311.5 153.5,311.5 153.5,308.5 155.5,308.5 162.5,307.5 163.5,305.5 166.5,304.5 166.5,301.5 167.5,301.5 172.5,301.5 172.5,299.5 175.5,299.5 180.5,299.5 180.5,296.5 181.5,296.5 185.5,296.5 185.5,293.5 185.5,290.5 185.5,288.5 186.5,288.5 186.5,287.5 188.5,287.5 191.5,287.5 191.5,286.5 193.5,286.5 199.5,286.5 199.5,283.5 200.5,283.5 200.5,282.5 203.5,282.5 203.5,279.5 204.5,279.5 204.5,278.5 207.5,278.5 207.5,275.5 208.5,275.5 208.5,272.5 212.5,272.5 221.5,272.5 221.5,268.5 221.5,265.5 222.5,265.5 222.5,264.5 225.5,264.5 229.5,264.5 229.5,263.5 232.5,263.5 232.5,261.5 233.5,261.5 233.5,258.5 234.5,258.5" stroke="#6cab72" stroke-width="1.2" fill="none" stroke-linejoin="miter" opacity="0.7"/><path d="M58.5,435.5 58.5,428.5 59.5,424.5 62.5,424.5 63.5,421.5 65.5,421.5 65.5,418.5 67.5,418.5 67.5,413.5 68.5,413.5 68.5,410.5 69.5,410.5 69.5,407.5 69.5,403.5 70.5,403.5 75.5,402.5 75.5,399.5 76.5,399.5 76.5,396.5 77.5,396.5 77.5,393.5 79.5,393.5 79.5,389.5 81.5,389.5 81.5,386.5 82.5,386.5 82.5,383.5 82.5,378.5 84.5,378.5 84.5,375.5 86.5,375.5 86.5,373.5 87.5,373.5 87.5,369.5 89.5,369.5 89.5,367.5 90.5,367.5 90.5,364.5 92.5,364.5 95.5,363.5 97.5,362.5 97.5,360.5 103.5,360.5 103.5,356.5 103.5,353.5 104.5,353.5 104.5,350.5 105.5,350.5 105.5,347.5 106.5,347.5 106.5,343.5 110.5,343.5 110.5,340.5 111.5,340.5 116.5,339.5 117.5,336.5 129.5,336.5 130.5,333.5 130.5,329.5 131.5,329.5 138.5,329.5 138.5,325.5 143.5,325.5 144.5,321.5 146.5,320.5 146.5,318.5 148.5,318.5 148.5,315.5 149.5,315.5 149.5,311.5 149.5,308.5 152.5,308.5 156.5,308.5 162.5,307.5 162.5,305.5 166.5,305.5 166.5,301.5 172.5,300.5 172.5,299.5 175.5,299.5 175.5,297.5 177.5,297.5 177.5,295.5 180.5,295.5 180.5,292.5 183.5,292.5 183.5,290.5 186.5,290.5 186.5,287.5 189.5,287.5 189.5,286.5 192.5,286.5 192.5,283.5 193.5,283.5 193.5,280.5 193.5,279.5 197.5,279.5 200.5,279.5 200.5,278.5 203.5,278.5 203.5,275.5 207.5,275.5 207.5,274.5 209.5,274.5 209.5,272.5 212.5,272.5 212.5,268.5 214.5,268.5 218.5,268.5 218.5,267.5 221.5,267.5 221.5,263.5 223.5,263.5 226.5,263.5 226.5,262.5 229.5,262.5 232.5,262.5 232.5,258.5 234.5,258.5" stroke="#7777bc" stroke-width="1.2" fill="none" stroke-linejoin="miter" opacity="0.7"/><path d="M58.5,435.5 58.5,428.5 59.5,424.5 62.5,424.5 63.5,421.5 65.5,421.5 65.5,418.5 67.5,418.5 67.5,413.5 68.5,413.5 68.5,410.5 69.5,410.5 69.5,407.5 69.5,403.5 70.5,403.5 75.5,402.5 75.5,399.5 76.5,399.5 76.5,396.5 77.5,396.5 77.5,393.5 79.5,393.5 79.5,389.5 81.5,389.5 81.5,386.5 82.5,386.5 82.5,383.5 82.5,378.5 84.5,378.5 84.5,375.5 86.5,375.5 86.5,373.5 87.5,373.5 87.5,369.5 89.5,369.5 89.5,367.5 90.5,367.5 90.5,364.5 91.5,364.5 91.5,361.5 92.5,361.5 95.5,361.5 97.5,360.5 97.5,357.5 100.5,357.5 103.5,357.5 103.5,353.5 104.5,353.5 104.5,351.5 106.5,351.5 106.5,343.5 110.5,343.5 110.5,340.5 111.5,340.5 116.5,339.5 116.5,336.5 117.5,336.5 117.5,335.5 119.5,335.5 120.5,332.5 123.5,332.5 124.5,329.5 130.5,329.5 131.5,326.5 131.5,325.5 135.5,325.5 135.5,322.5 146.5,321.5 146.5,318.5 148.5,318.5 148.5,315.5 149.5,315.5 149.5,311.5 149.5,308.5 152.5,308.5 162.5,307.5 162.5,304.5 166.5,304.5 166.5,301.5 172.5,300.5 172.5,299.5 175.5,299.5 177.5,299.5 177.5,296.5 177.5,293.5 178.5,293.5 178.5,290.5 179.5,290.5 182.5,290.5 182.5,289.5 186.5,289.5 186.5,286.5 187.5,286.5 187.5,285.5 189.5,285.5 192.5,285.5 192.5,282.5 192.5,279.5 193.5,279.5 196.5,279.5 199.5,279.5 202.5,279.5 202.5,278.5 205.5,278.5 205.5,276.5 206.5,276.5 206.5,274.5 210.5,274.5 210.5,272.5 211.5,272.5 211.5,269.5 212.5,269.5 214.5,269.5 217.5,269.5 217.5,268.5 219.5,268.5 219.5,266.5 221.5,266.5 221.5,262.5 224.5,262.5 224.5,261.5 226.5,261.5 229.5,261.5 232.5,261.5 232.5,258.5 234.5,258.5" stroke="#8a5c90" stroke-width="1.2" fill="none" stroke-linejoin="miter" opacity="0.7"/></g>
<g><path d="M271.3 258.4V435.4M267.8 435.4H462.0" stroke="#444" stroke-width="1" fill="none"/><path d="M278.20 435.4V438.59999999999997M267.8 400.00H271.3M313.66 435.4V438.59999999999997M267.8 364.60H271.3M349.12 435.4V438.59999999999997M267.8 329.20H271.3M384.58 435.4V438.59999999999997M267.8 293.80H271.3M420.04 435.4V438.59999999999997M267.8 258.40H271.3M455.50 435.4V438.59999999999997" stroke="#444" stroke-width="1" fill="none"/><text transform="translate(267.10,438.00) scale(0.84,1)" font-size="7.6" text-anchor="end" fill="#2a2a2a" class="s">0.0</text><text transform="translate(278.20,445.20) scale(0.84,1)" font-size="7.6" text-anchor="middle" fill="#2a2a2a" class="s">0.0</text><text transform="translate(267.10,402.60) scale(0.84,1)" font-size="7.6" text-anchor="end" fill="#2a2a2a" class="s">0.2</text><text transform="translate(313.66,445.20) scale(0.84,1)" font-size="7.6" text-anchor="middle" fill="#2a2a2a" class="s">0.2</text><text transform="translate(267.10,367.20) scale(0.84,1)" font-size="7.6" text-anchor="end" fill="#2a2a2a" class="s">0.4</text><text transform="translate(349.12,445.20) scale(0.84,1)" font-size="7.6" text-anchor="middle" fill="#2a2a2a" class="s">0.4</text><text transform="translate(267.10,331.80) scale(0.84,1)" font-size="7.6" text-anchor="end" fill="#2a2a2a" class="s">0.6</text><text transform="translate(384.58,445.20) scale(0.84,1)" font-size="7.6" text-anchor="middle" fill="#2a2a2a" class="s">0.6</text><text transform="translate(267.10,296.40) scale(0.84,1)" font-size="7.6" text-anchor="end" fill="#2a2a2a" class="s">0.8</text><text transform="translate(420.04,445.20) scale(0.84,1)" font-size="7.6" text-anchor="middle" fill="#2a2a2a" class="s">0.8</text><text transform="translate(267.10,261.00) scale(0.84,1)" font-size="7.6" text-anchor="end" fill="#2a2a2a" class="s">1.0</text><text transform="translate(455.50,445.20) scale(0.84,1)" font-size="7.6" text-anchor="middle" fill="#2a2a2a" class="s">1.0</text><text x="369.50" y="458.30" font-size="7.4" text-anchor="middle" fill="#2a2a2a" class="s">Specificity</text><text transform="translate(251.00,347.60) rotate(-90)" font-size="7.4" text-anchor="middle" fill="#2a2a2a" class="s">Sensitivity</text><text x="352.75" y="248.90" font-size="7.4" text-anchor="middle" fill="#2a2a2a" class="s">ROC curve</text><path d="M289.0 268.70H297.7" stroke="#b4b4d8" stroke-width="1" fill="none"/><text x="299.9" y="271.40" font-size="7.4" fill="#2a2a2a" class="s">NLR</text><path d="M289.0 278.20H297.7" stroke="#8cc49a" stroke-width="1" fill="none"/><text x="299.9" y="280.90" font-size="7.4" fill="#2a2a2a" class="s">dNLR</text><path d="M289.0 287.70H297.7" stroke="#c0a0c4" stroke-width="1" fill="none"/><text x="299.9" y="290.40" font-size="7.4" fill="#2a2a2a" class="s">M/GLR</text><path d="M278.5,435.5 278.5,432.5 279.5,432.5 279.5,429.5 280.5,429.5 280.5,426.5 280.5,423.5 281.5,423.5 281.5,420.5 283.5,420.5 283.5,417.5 285.5,417.5 285.5,413.5 288.5,413.5 288.5,409.5 291.5,409.5 291.5,406.5 294.5,406.5 298.5,405.5 298.5,403.5 299.5,403.5 299.5,401.5 299.5,398.5 300.5,398.5 300.5,397.5 303.5,397.5 303.5,395.5 304.5,395.5 304.5,392.5 305.5,392.5 305.5,390.5 307.5,390.5 307.5,388.5 308.5,388.5 308.5,387.5 311.5,387.5 313.5,387.5 313.5,384.5 314.5,384.5 314.5,381.5 315.5,381.5 315.5,378.5 317.5,378.5 317.5,376.5 318.5,376.5 318.5,374.5 318.5,371.5 319.5,371.5 319.5,369.5 320.5,369.5 320.5,366.5 323.5,366.5 323.5,364.5 323.5,362.5 324.5,362.5 324.5,360.5 325.5,360.5 325.5,357.5 326.5,357.5 326.5,355.5 328.5,355.5 328.5,352.5 329.5,352.5 329.5,349.5 330.5,349.5 331.5,344.5 331.5,342.5 332.5,342.5 336.5,341.5 336.5,338.5 338.5,338.5 338.5,335.5 339.5,335.5 339.5,332.5 343.5,332.5 343.5,331.5 345.5,331.5 345.5,330.5 347.5,330.5 347.5,329.5 350.5,329.5 350.5,328.5 352.5,328.5 352.5,325.5 355.5,325.5 358.5,325.5 358.5,322.5 359.5,322.5 359.5,320.5 360.5,320.5 360.5,319.5 362.5,319.5 362.5,316.5 365.5,316.5 365.5,314.5 369.5,314.5 369.5,310.5 372.5,310.5 375.5,310.5 375.5,309.5 378.5,309.5 381.5,309.5 384.5,309.5 384.5,308.5 386.5,308.5 386.5,307.5 389.5,307.5 389.5,306.5 392.5,306.5 392.5,305.5 395.5,305.5 397.5,305.5 397.5,304.5 400.5,304.5 400.5,303.5 402.5,303.5 402.5,302.5 404.5,302.5 404.5,299.5 407.5,299.5 407.5,296.5 409.5,296.5 413.5,296.5 413.5,293.5 417.5,293.5 417.5,289.5 420.5,289.5 420.5,287.5 423.5,287.5 423.5,285.5 424.5,285.5 424.5,283.5 424.5,281.5 428.5,281.5 428.5,279.5 431.5,279.5 431.5,276.5 433.5,276.5 433.5,273.5 435.5,273.5 435.5,272.5 439.5,272.5 439.5,271.5 442.5,271.5 442.5,267.5 445.5,267.5 445.5,266.5 447.5,266.5 447.5,264.5 449.5,264.5 449.5,261.5 452.5,261.5 452.5,258.5 454.5,258.5" stroke="#6cab72" stroke-width="1.2" fill="none" stroke-linejoin="miter" opacity="0.7"/><path d="M278.5,435.5 278.5,432.5 278.5,430.5 278.5,428.5 279.5,428.5 279.5,425.5 280.5,425.5 280.5,422.5 280.5,419.5 283.5,419.5 283.5,416.5 285.5,416.5 285.5,413.5 286.5,413.5 286.5,410.5 287.5,410.5 287.5,407.5 289.5,407.5 289.5,406.5 292.5,406.5 292.5,403.5 292.5,401.5 293.5,401.5 293.5,399.5 293.5,397.5 293.5,394.5 296.5,394.5 296.5,391.5 297.5,391.5 297.5,388.5 299.5,388.5 299.5,385.5 300.5,385.5 300.5,382.5 303.5,382.5 303.5,380.5 304.5,380.5 304.5,378.5 305.5,378.5 305.5,375.5 307.5,375.5 307.5,372.5 309.5,372.5 309.5,371.5 311.5,371.5 311.5,369.5 315.5,369.5 315.5,366.5 317.5,366.5 317.5,363.5 319.5,363.5 319.5,361.5 320.5,361.5 320.5,359.5 321.5,359.5 321.5,356.5 323.5,356.5 323.5,354.5 324.5,354.5 324.5,352.5 325.5,352.5 325.5,349.5 326.5,349.5 326.5,347.5 327.5,347.5 327.5,344.5 329.5,344.5 329.5,342.5 331.5,342.5 331.5,341.5 334.5,341.5 334.5,339.5 337.5,339.5 337.5,336.5 339.5,336.5 339.5,333.5 343.5,333.5 343.5,331.5 347.5,331.5 347.5,328.5 350.5,328.5 350.5,326.5 352.5,326.5 352.5,324.5 354.5,324.5 354.5,321.5 357.5,321.5 357.5,320.5 358.5,320.5 358.5,318.5 361.5,318.5 361.5,315.5 365.5,315.5 365.5,312.5 368.5,312.5 368.5,311.5 370.5,311.5 370.5,309.5 372.5,309.5 375.5,309.5 378.5,309.5 378.5,307.5 381.5,307.5 381.5,306.5 384.5,306.5 384.5,305.5 386.5,305.5 388.5,305.5 388.5,304.5 391.5,304.5 393.5,304.5 395.5,304.5 395.5,303.5 397.5,303.5 397.5,302.5 400.5,302.5 400.5,301.5 402.5,301.5 404.5,301.5 404.5,298.5 406.5,298.5 406.5,295.5 408.5,295.5 408.5,292.5 412.5,292.5 412.5,288.5 413.5,288.5 413.5,286.5 417.5,286.5 417.5,283.5 420.5,283.5 420.5,280.5 423.5,280.5 423.5,278.5 427.5,278.5 427.5,276.5 430.5,276.5 430.5,273.5 433.5,273.5 433.5,272.5 436.5,272.5 436.5,271.5 439.5,271.5 439.5,268.5 442.5,268.5 442.5,266.5 445.5,266.5 445.5,262.5 449.5,262.5 449.5,260.5 452.5,260.5 452.5,258.5 454.5,258.5" stroke="#7777bc" stroke-width="1.2" fill="none" stroke-linejoin="miter" opacity="0.7"/><path d="M278.5,435.5 278.5,432.5 278.5,430.5 278.5,428.5 279.5,428.5 279.5,425.5 280.5,425.5 280.5,422.5 280.5,419.5 283.5,419.5 283.5,416.5 285.5,416.5 285.5,413.5 286.5,413.5 286.5,410.5 287.5,410.5 287.5,407.5 289.5,407.5 289.5,406.5 292.5,406.5 292.5,403.5 292.5,401.5 293.5,401.5 293.5,399.5 293.5,397.5 293.5,394.5 296.5,394.5 296.5,391.5 297.5,391.5 297.5,388.5 299.5,388.5 299.5,385.5 300.5,385.5 300.5,382.5 303.5,382.5 303.5,380.5 304.5,380.5 304.5,378.5 305.5,378.5 305.5,375.5 307.5,375.5 307.5,372.5 309.5,372.5 309.5,371.5 311.5,371.5 311.5,369.5 315.5,369.5 315.5,366.5 317.5,366.5 317.5,363.5 319.5,363.5 319.5,361.5 320.5,361.5 320.5,359.5 321.5,359.5 321.5,356.5 323.5,356.5 323.5,354.5 324.5,354.5 324.5,352.5 325.5,352.5 325.5,349.5 326.5,349.5 326.5,347.5 327.5,347.5 327.5,344.5 329.5,344.5 329.5,342.5 331.5,342.5 331.5,341.5 334.5,341.5 334.5,339.5 337.5,339.5 337.5,336.5 339.5,336.5 339.5,333.5 343.5,333.5 343.5,331.5 347.5,331.5 347.5,328.5 350.5,328.5 350.5,326.5 352.5,326.5 352.5,324.5 354.5,324.5 354.5,321.5 357.5,321.5 357.5,320.5 358.5,320.5 358.5,318.5 361.5,318.5 361.5,316.5 363.5,316.5 363.5,314.5 364.5,314.5 364.5,312.5 365.5,312.5 365.5,310.5 368.5,310.5 368.5,309.5 370.5,309.5 370.5,306.5 373.5,306.5 373.5,305.5 376.5,305.5 376.5,304.5 378.5,304.5 380.5,304.5 380.5,303.5 382.5,303.5 382.5,300.5 386.5,300.5 386.5,299.5 389.5,299.5 392.5,299.5 392.5,298.5 394.5,298.5 394.5,297.5 396.5,297.5 396.5,294.5 397.5,294.5 400.5,294.5 403.5,294.5 403.5,293.5 406.5,293.5 406.5,291.5 409.5,291.5 409.5,289.5 410.5,289.5 410.5,287.5 412.5,287.5 412.5,284.5 413.5,284.5 413.5,283.5 417.5,283.5 417.5,281.5 419.5,281.5 423.5,280.5 423.5,278.5 426.5,278.5 426.5,277.5 428.5,277.5 428.5,276.5 430.5,276.5 430.5,274.5 433.5,274.5 433.5,272.5 435.5,272.5 435.5,271.5 438.5,271.5 438.5,270.5 440.5,270.5 440.5,268.5 442.5,268.5 442.5,266.5 444.5,266.5 444.5,264.5 446.5,264.5 446.5,262.5 449.5,262.5 449.5,260.5 452.5,260.5 452.5,258.5 454.5,258.5" stroke="#8a5c90" stroke-width="1.2" fill="none" stroke-linejoin="miter" opacity="0.7"/></g>
<g><path d="M493.6 256.5V433.3M490.1 433.3H683.9" stroke="#444" stroke-width="1" fill="none"/><path d="M500.40 433.3V436.5M490.1 397.94H493.6M535.80 433.3V436.5M490.1 362.58H493.6M571.20 433.3V436.5M490.1 327.22H493.6M606.60 433.3V436.5M490.1 291.86H493.6M642.00 433.3V436.5M490.1 256.50H493.6M677.40 433.3V436.5" stroke="#444" stroke-width="1" fill="none"/><text transform="translate(489.40,435.90) scale(0.84,1)" font-size="7.6" text-anchor="end" fill="#2a2a2a" class="s">0.0</text><text transform="translate(500.40,443.10) scale(0.84,1)" font-size="7.6" text-anchor="middle" fill="#2a2a2a" class="s">0.0</text><text transform="translate(489.40,400.54) scale(0.84,1)" font-size="7.6" text-anchor="end" fill="#2a2a2a" class="s">0.2</text><text transform="translate(535.80,443.10) scale(0.84,1)" font-size="7.6" text-anchor="middle" fill="#2a2a2a" class="s">0.2</text><text transform="translate(489.40,365.18) scale(0.84,1)" font-size="7.6" text-anchor="end" fill="#2a2a2a" class="s">0.4</text><text transform="translate(571.20,443.10) scale(0.84,1)" font-size="7.6" text-anchor="middle" fill="#2a2a2a" class="s">0.4</text><text transform="translate(489.40,329.82) scale(0.84,1)" font-size="7.6" text-anchor="end" fill="#2a2a2a" class="s">0.6</text><text transform="translate(606.60,443.10) scale(0.84,1)" font-size="7.6" text-anchor="middle" fill="#2a2a2a" class="s">0.6</text><text transform="translate(489.40,294.46) scale(0.84,1)" font-size="7.6" text-anchor="end" fill="#2a2a2a" class="s">0.8</text><text transform="translate(642.00,443.10) scale(0.84,1)" font-size="7.6" text-anchor="middle" fill="#2a2a2a" class="s">0.8</text><text transform="translate(489.40,259.10) scale(0.84,1)" font-size="7.6" text-anchor="end" fill="#2a2a2a" class="s">1.0</text><text transform="translate(677.40,443.10) scale(0.84,1)" font-size="7.6" text-anchor="middle" fill="#2a2a2a" class="s">1.0</text><text x="590.75" y="458.80" font-size="7.4" text-anchor="middle" fill="#2a2a2a" class="s">Specificity</text><text transform="translate(474.70,345.60) rotate(-90)" font-size="7.4" text-anchor="middle" fill="#2a2a2a" class="s">Sensitivity</text><text x="575.60" y="246.30" font-size="7.4" text-anchor="middle" fill="#2a2a2a" class="s">ROC curve</text><path d="M510.3 266.70H519.0" stroke="#b4b4d8" stroke-width="1" fill="none"/><text x="521.2" y="269.40" font-size="7.4" fill="#2a2a2a" class="s">NLR</text><path d="M510.3 276.05H519.0" stroke="#8cc49a" stroke-width="1" fill="none"/><text x="521.2" y="278.75" font-size="7.4" fill="#2a2a2a" class="s">dNLR</text><path d="M510.3 285.40H519.0" stroke="#c0a0c4" stroke-width="1" fill="none"/><text x="521.2" y="288.10" font-size="7.4" fill="#2a2a2a" class="s">M/GLR</text><path d="M500.5,432.5 500.5,430.5 500.5,428.5 500.5,426.5 501.5,426.5 501.5,422.5 503.5,422.5 503.5,420.5 504.5,420.5 504.5,418.5 505.5,418.5 505.5,415.5 506.5,415.5 506.5,412.5 507.5,412.5 507.5,410.5 509.5,410.5 509.5,408.5 510.5,408.5 510.5,404.5 512.5,404.5 512.5,402.5 514.5,402.5 514.5,401.5 517.5,401.5 517.5,399.5 520.5,399.5 520.5,397.5 521.5,397.5 521.5,395.5 523.5,395.5 523.5,392.5 525.5,392.5 525.5,389.5 528.5,389.5 528.5,386.5 531.5,386.5 531.5,385.5 534.5,385.5 534.5,382.5 535.5,382.5 535.5,380.5 536.5,380.5 536.5,378.5 537.5,378.5 537.5,376.5 539.5,376.5 539.5,373.5 542.5,373.5 542.5,370.5 545.5,370.5 545.5,368.5 546.5,368.5 546.5,366.5 547.5,366.5 547.5,363.5 549.5,363.5 549.5,361.5 550.5,361.5 550.5,358.5 551.5,358.5 551.5,356.5 552.5,356.5 552.5,354.5 553.5,354.5 553.5,351.5 556.5,351.5 556.5,348.5 558.5,348.5 558.5,346.5 559.5,346.5 559.5,344.5 560.5,344.5 563.5,343.5 563.5,339.5 567.5,339.5 567.5,338.5 569.5,338.5 569.5,337.5 571.5,337.5 571.5,336.5 573.5,336.5 573.5,335.5 575.5,335.5 575.5,334.5 579.5,334.5 579.5,331.5 581.5,331.5 581.5,328.5 583.5,328.5 583.5,326.5 584.5,326.5 584.5,325.5 586.5,325.5 586.5,323.5 588.5,323.5 588.5,321.5 591.5,321.5 591.5,319.5 593.5,319.5 593.5,318.5 597.5,318.5 597.5,315.5 598.5,315.5 598.5,314.5 600.5,314.5 600.5,313.5 602.5,313.5 602.5,311.5 605.5,311.5 605.5,310.5 608.5,310.5 611.5,310.5 611.5,309.5 613.5,309.5 613.5,307.5 615.5,307.5 615.5,305.5 619.5,305.5 619.5,304.5 621.5,304.5 621.5,303.5 623.5,303.5 623.5,302.5 626.5,302.5 626.5,300.5 629.5,300.5 629.5,298.5 633.5,298.5 633.5,297.5 636.5,297.5 636.5,295.5 640.5,295.5 640.5,292.5 642.5,292.5 642.5,289.5 644.5,289.5 644.5,286.5 645.5,286.5 645.5,283.5 647.5,283.5 647.5,281.5 648.5,281.5 648.5,279.5 650.5,279.5 650.5,278.5 653.5,278.5 653.5,276.5 655.5,276.5 657.5,276.5 657.5,275.5 659.5,275.5 659.5,273.5 661.5,273.5 661.5,272.5 663.5,272.5 663.5,269.5 666.5,269.5 666.5,265.5 669.5,265.5 669.5,263.5 671.5,263.5 671.5,260.5 673.5,260.5 673.5,256.5 676.5,256.5" stroke="#6cab72" stroke-width="1.2" fill="none" stroke-linejoin="miter" opacity="0.7"/><path d="M500.5,432.5 500.5,430.5 500.5,427.5 500.5,425.5 501.5,425.5 501.5,423.5 501.5,420.5 502.5,420.5 502.5,417.5 503.5,417.5 503.5,414.5 505.5,414.5 505.5,412.5 506.5,412.5 506.5,409.5 507.5,409.5 507.5,406.5 510.5,406.5 510.5,403.5 513.5,403.5 513.5,400.5 514.5,400.5 514.5,397.5 515.5,397.5 515.5,393.5 517.5,393.5 517.5,391.5 518.5,391.5 518.5,389.5 518.5,387.5 519.5,387.5 519.5,384.5 521.5,384.5 521.5,380.5 524.5,380.5 524.5,377.5 526.5,377.5 526.5,373.5 528.5,373.5 528.5,372.5 531.5,372.5 531.5,369.5 534.5,369.5 534.5,366.5 537.5,366.5 537.5,363.5 540.5,363.5 540.5,360.5 543.5,360.5 543.5,356.5 546.5,356.5 546.5,353.5 548.5,353.5 548.5,351.5 551.5,351.5 551.5,349.5 554.5,349.5 558.5,348.5 558.5,345.5 561.5,345.5 561.5,342.5 564.5,342.5 564.5,338.5 568.5,338.5 568.5,335.5 571.5,335.5 571.5,332.5 574.5,332.5 574.5,329.5 576.5,329.5 576.5,326.5 580.5,326.5 580.5,324.5 582.5,324.5 582.5,323.5 584.5,323.5 584.5,321.5 585.5,321.5 585.5,319.5 586.5,319.5 586.5,318.5 588.5,318.5 595.5,317.5 597.5,317.5 599.5,317.5 599.5,316.5 602.5,316.5 602.5,314.5 603.5,314.5 603.5,313.5 605.5,313.5 605.5,312.5 607.5,312.5 607.5,310.5 610.5,310.5 610.5,308.5 612.5,308.5 612.5,306.5 614.5,306.5 614.5,304.5 617.5,304.5 617.5,303.5 620.5,303.5 620.5,302.5 622.5,302.5 622.5,301.5 624.5,301.5 624.5,298.5 628.5,298.5 628.5,296.5 630.5,296.5 630.5,293.5 633.5,293.5 633.5,290.5 634.5,290.5 634.5,288.5 635.5,288.5 635.5,286.5 636.5,286.5 636.5,284.5 640.5,284.5 640.5,283.5 642.5,283.5 642.5,282.5 645.5,282.5 645.5,281.5 649.5,281.5 649.5,278.5 650.5,278.5 650.5,276.5 654.5,276.5 654.5,275.5 657.5,275.5 657.5,273.5 661.5,273.5 661.5,271.5 664.5,271.5 664.5,268.5 666.5,268.5 666.5,266.5 669.5,266.5 669.5,264.5 670.5,264.5 670.5,262.5 671.5,262.5 671.5,260.5 672.5,260.5 672.5,258.5 673.5,258.5 673.5,256.5 676.5,256.5" stroke="#7777bc" stroke-width="1.2" fill="none" stroke-linejoin="miter" opacity="0.7"/><path d="M500.5,432.5 500.5,430.5 500.5,427.5 500.5,425.5 501.5,425.5 501.5,423.5 501.5,420.5 502.5,420.5 502.5,417.5 503.5,417.5 503.5,414.5 505.5,414.5 505.5,412.5 506.5,412.5 506.5,409.5 507.5,409.5 507.5,406.5 510.5,406.5 510.5,403.5 513.5,403.5 513.5,400.5 514.5,400.5 514.5,397.5 515.5,397.5 515.5,393.5 517.5,393.5 517.5,391.5 518.5,391.5 518.5,389.5 518.5,387.5 519.5,387.5 519.5,384.5 521.5,384.5 521.5,380.5 524.5,380.5 524.5,378.5 525.5,378.5 525.5,375.5 526.5,375.5 526.5,372.5 529.5,372.5 529.5,369.5 532.5,369.5 532.5,368.5 536.5,368.5 536.5,366.5 540.5,366.5 540.5,363.5 542.5,363.5 542.5,360.5 543.5,360.5 543.5,356.5 546.5,356.5 546.5,353.5 548.5,353.5 548.5,351.5 551.5,351.5 551.5,349.5 554.5,349.5 558.5,348.5 558.5,345.5 561.5,345.5 561.5,342.5 564.5,342.5 564.5,338.5 568.5,338.5 568.5,335.5 571.5,335.5 571.5,332.5 574.5,332.5 574.5,329.5 576.5,329.5 576.5,326.5 580.5,326.5 580.5,324.5 582.5,324.5 582.5,323.5 584.5,323.5 584.5,321.5 585.5,321.5 585.5,319.5 586.5,319.5 586.5,318.5 588.5,318.5 588.5,317.5 588.5,314.5 592.5,314.5 592.5,313.5 594.5,313.5 594.5,312.5 596.5,312.5 596.5,310.5 598.5,310.5 598.5,309.5 600.5,309.5 600.5,308.5 602.5,308.5 602.5,307.5 604.5,307.5 606.5,307.5 608.5,307.5 608.5,305.5 611.5,305.5 611.5,303.5 614.5,303.5 614.5,302.5 617.5,302.5 617.5,298.5 620.5,298.5 620.5,297.5 622.5,297.5 624.5,297.5 624.5,295.5 628.5,295.5 628.5,292.5 630.5,292.5 630.5,290.5 633.5,290.5 633.5,288.5 634.5,288.5 634.5,286.5 636.5,286.5 636.5,284.5 640.5,284.5 640.5,283.5 642.5,283.5 642.5,281.5 644.5,281.5 647.5,281.5 647.5,278.5 650.5,278.5 650.5,276.5 654.5,276.5 656.5,276.5 656.5,275.5 658.5,275.5 658.5,274.5 660.5,274.5 660.5,273.5 662.5,273.5 662.5,270.5 666.5,270.5 666.5,268.5 668.5,268.5 668.5,265.5 669.5,265.5 669.5,263.5 671.5,263.5 671.5,261.5 671.5,259.5 672.5,259.5 672.5,257.5 674.5,257.5 674.5,256.5 676.5,256.5" stroke="#8a5c90" stroke-width="1.2" fill="none" stroke-linejoin="miter" opacity="0.7"/></g>
<g><path d="M50.9 481.0V658.3M47.4 658.3H240.9" stroke="#444" stroke-width="1" fill="none"/><path d="M57.60 658.3V661.5M47.4 622.84H50.9M92.96 658.3V661.5M47.4 587.38H50.9M128.32 658.3V661.5M47.4 551.92H50.9M163.68 658.3V661.5M47.4 516.46H50.9M199.04 658.3V661.5M47.4 481.00H50.9M234.40 658.3V661.5" stroke="#444" stroke-width="1" fill="none"/><text transform="translate(46.70,660.90) scale(0.84,1)" font-size="7.6" text-anchor="end" fill="#2a2a2a" class="s">0.0</text><text transform="translate(57.60,668.10) scale(0.84,1)" font-size="7.6" text-anchor="middle" fill="#2a2a2a" class="s">0.0</text><text transform="translate(46.70,625.44) scale(0.84,1)" font-size="7.6" text-anchor="end" fill="#2a2a2a" class="s">0.2</text><text transform="translate(92.96,668.10) scale(0.84,1)" font-size="7.6" text-anchor="middle" fill="#2a2a2a" class="s">0.2</text><text transform="translate(46.70,589.98) scale(0.84,1)" font-size="7.6" text-anchor="end" fill="#2a2a2a" class="s">0.4</text><text transform="translate(128.32,668.10) scale(0.84,1)" font-size="7.6" text-anchor="middle" fill="#2a2a2a" class="s">0.4</text><text transform="translate(46.70,554.52) scale(0.84,1)" font-size="7.6" text-anchor="end" fill="#2a2a2a" class="s">0.6</text><text transform="translate(163.68,668.10) scale(0.84,1)" font-size="7.6" text-anchor="middle" fill="#2a2a2a" class="s">0.6</text><text transform="translate(46.70,519.06) scale(0.84,1)" font-size="7.6" text-anchor="end" fill="#2a2a2a" class="s">0.8</text><text transform="translate(199.04,668.10) scale(0.84,1)" font-size="7.6" text-anchor="middle" fill="#2a2a2a" class="s">0.8</text><text transform="translate(46.70,483.60) scale(0.84,1)" font-size="7.6" text-anchor="end" fill="#2a2a2a" class="s">1.0</text><text transform="translate(234.40,668.10) scale(0.84,1)" font-size="7.6" text-anchor="middle" fill="#2a2a2a" class="s">1.0</text><text x="146.50" y="679.10" font-size="7.4" text-anchor="middle" fill="#2a2a2a" class="s">Specificity</text><text transform="translate(30.20,570.60) rotate(-90)" font-size="7.4" text-anchor="middle" fill="#2a2a2a" class="s">Sensitivity</text><text x="131.05" y="471.70" font-size="7.4" text-anchor="middle" fill="#2a2a2a" class="s">ROC curve</text><path d="M68.1 490.80H76.8" stroke="#b4b4d8" stroke-width="1" fill="none"/><text x="79.3" y="493.50" font-size="7.4" fill="#2a2a2a" class="s">NLR</text><path d="M68.1 500.25H76.8" stroke="#8cc49a" stroke-width="1" fill="none"/><text x="79.3" y="502.95" font-size="7.4" fill="#2a2a2a" class="s">dNLR</text><path d="M68.1 509.70H76.8" stroke="#c0a0c4" stroke-width="1" fill="none"/><text x="79.3" y="512.40" font-size="7.4" fill="#2a2a2a" class="s">M/GLR</text><path d="M57.5,658.5 57.5,640.5 71.5,640.5 71.5,622.5 73.5,622.5 73.5,605.5 75.5,587.5 80.5,587.5 80.5,569.5 98.5,569.5 98.5,551.5 144.5,551.5 144.5,534.5 187.5,534.5 187.5,498.5 224.5,498.5 224.5,481.5 234.5,481.5" stroke="#6cab72" stroke-width="1.2" fill="none" stroke-linejoin="miter" opacity="0.7"/><path d="M57.5,658.5 57.5,640.5 61.5,640.5 61.5,622.5 63.5,622.5 63.5,605.5 89.5,605.5 91.5,587.5 92.5,569.5 94.5,569.5 94.5,551.5 96.5,551.5 100.5,534.5 211.5,534.5 211.5,498.5 232.5,498.5 232.5,481.5 234.5,481.5" stroke="#7777bc" stroke-width="1.2" fill="none" stroke-linejoin="miter" opacity="0.7"/><path d="M57.5,658.5 57.5,640.5 61.5,640.5 62.5,622.5 69.5,622.5 69.5,605.5 80.5,605.5 81.5,587.5 84.5,569.5 84.5,551.5 96.5,551.5 100.5,534.5 200.5,534.5 200.5,498.5 227.5,498.5 227.5,481.5 234.5,481.5" stroke="#8a5c90" stroke-width="1.2" fill="none" stroke-linejoin="miter" opacity="0.7"/></g>
<g><path d="M271.2 480.8V657.8M267.7 657.8H461.1" stroke="#444" stroke-width="1" fill="none"/><path d="M277.60 657.8V661.0M267.7 622.40H271.2M313.00 657.8V661.0M267.7 587.00H271.2M348.40 657.8V661.0M267.7 551.60H271.2M383.80 657.8V661.0M267.7 516.20H271.2M419.20 657.8V661.0M267.7 480.80H271.2M454.60 657.8V661.0" stroke="#444" stroke-width="1" fill="none"/><text transform="translate(267.00,660.40) scale(0.84,1)" font-size="7.6" text-anchor="end" fill="#2a2a2a" class="s">0.0</text><text transform="translate(277.60,667.60) scale(0.84,1)" font-size="7.6" text-anchor="middle" fill="#2a2a2a" class="s">0.0</text><text transform="translate(267.00,625.00) scale(0.84,1)" font-size="7.6" text-anchor="end" fill="#2a2a2a" class="s">0.2</text><text transform="translate(313.00,667.60) scale(0.84,1)" font-size="7.6" text-anchor="middle" fill="#2a2a2a" class="s">0.2</text><text transform="translate(267.00,589.60) scale(0.84,1)" font-size="7.6" text-anchor="end" fill="#2a2a2a" class="s">0.4</text><text transform="translate(348.40,667.60) scale(0.84,1)" font-size="7.6" text-anchor="middle" fill="#2a2a2a" class="s">0.4</text><text transform="translate(267.00,554.20) scale(0.84,1)" font-size="7.6" text-anchor="end" fill="#2a2a2a" class="s">0.6</text><text transform="translate(383.80,667.60) scale(0.84,1)" font-size="7.6" text-anchor="middle" fill="#2a2a2a" class="s">0.6</text><text transform="translate(267.00,518.80) scale(0.84,1)" font-size="7.6" text-anchor="end" fill="#2a2a2a" class="s">0.8</text><text transform="translate(419.20,667.60) scale(0.84,1)" font-size="7.6" text-anchor="middle" fill="#2a2a2a" class="s">0.8</text><text transform="translate(267.00,483.40) scale(0.84,1)" font-size="7.6" text-anchor="end" fill="#2a2a2a" class="s">1.0</text><text transform="translate(454.60,667.60) scale(0.84,1)" font-size="7.6" text-anchor="middle" fill="#2a2a2a" class="s">1.0</text><text x="366.15" y="678.90" font-size="7.4" text-anchor="middle" fill="#2a2a2a" class="s">Specificity</text><text transform="translate(251.00,569.80) rotate(-90)" font-size="7.4" text-anchor="middle" fill="#2a2a2a" class="s">Sensitivity</text><text x="352.00" y="470.80" font-size="7.4" text-anchor="middle" fill="#2a2a2a" class="s">ROC curve</text><path d="M288.3 490.50H297.0" stroke="#b4b4d8" stroke-width="1" fill="none"/><text x="299.5" y="493.20" font-size="7.4" fill="#2a2a2a" class="s">NLR</text><path d="M288.3 499.85H297.0" stroke="#8cc49a" stroke-width="1" fill="none"/><text x="299.5" y="502.55" font-size="7.4" fill="#2a2a2a" class="s">dNLR</text><path d="M288.3 509.20H297.0" stroke="#c0a0c4" stroke-width="1" fill="none"/><text x="299.5" y="511.90" font-size="7.4" fill="#2a2a2a" class="s">M/GLR</text><path d="M277.5,657.5 277.5,645.5 280.5,645.5 281.5,639.5 288.5,639.5 288.5,626.5 289.5,619.5 291.5,619.5 292.5,612.5 292.5,607.5 297.5,607.5 298.5,600.5 298.5,594.5 303.5,594.5 303.5,588.5 303.5,586.5 305.5,586.5 305.5,575.5 310.5,575.5 310.5,572.5 312.5,572.5 312.5,569.5 314.5,569.5 341.5,569.5 342.5,563.5 364.5,562.5 365.5,556.5 374.5,556.5 383.5,556.5 383.5,543.5 387.5,543.5 387.5,539.5 389.5,539.5 389.5,536.5 391.5,536.5 391.5,533.5 392.5,533.5 392.5,530.5 394.5,530.5 394.5,527.5 396.5,527.5 396.5,525.5 397.5,525.5 404.5,524.5 404.5,518.5 406.5,518.5 406.5,506.5 420.5,506.5 424.5,505.5 424.5,502.5 425.5,502.5 425.5,499.5 427.5,499.5 430.5,498.5 430.5,494.5 433.5,493.5 442.5,493.5 443.5,481.5 453.5,481.5" stroke="#6cab72" stroke-width="1.2" fill="none" stroke-linejoin="miter" opacity="0.7"/><path d="M277.5,657.5 277.5,654.5 277.5,651.5 278.5,651.5 281.5,651.5 281.5,639.5 281.5,619.5 287.5,619.5 287.5,612.5 309.5,612.5 309.5,601.5 309.5,598.5 310.5,598.5 310.5,594.5 311.5,594.5 313.5,594.5 313.5,591.5 313.5,588.5 314.5,588.5 314.5,585.5 314.5,582.5 314.5,578.5 315.5,578.5 315.5,575.5 317.5,575.5 317.5,563.5 334.5,563.5 334.5,556.5 338.5,556.5 338.5,550.5 361.5,550.5 361.5,547.5 363.5,547.5 363.5,544.5 365.5,544.5 374.5,544.5 374.5,543.5 375.5,537.5 390.5,537.5 390.5,534.5 391.5,534.5 391.5,531.5 392.5,518.5 420.5,518.5 420.5,506.5 424.5,506.5 424.5,502.5 425.5,502.5 425.5,499.5 427.5,499.5 430.5,498.5 430.5,493.5 439.5,493.5 439.5,490.5 440.5,490.5 440.5,487.5 453.5,487.5 453.5,481.5" stroke="#7777bc" stroke-width="1.2" fill="none" stroke-linejoin="miter" opacity="0.7"/><path d="M277.5,657.5 277.5,645.5 280.5,645.5 281.5,639.5 281.5,626.5 287.5,626.5 287.5,612.5 299.5,612.5 299.5,610.5 300.5,610.5 300.5,607.5 301.5,607.5 301.5,604.5 302.5,604.5 302.5,601.5 303.5,601.5 303.5,599.5 304.5,599.5 305.5,582.5 309.5,582.5 310.5,569.5 314.5,569.5 314.5,566.5 315.5,566.5 315.5,563.5 317.5,563.5 337.5,563.5 337.5,556.5 356.5,556.5 356.5,550.5 374.5,550.5 374.5,544.5 374.5,541.5 376.5,541.5 376.5,537.5 377.5,537.5 390.5,537.5 391.5,531.5 397.5,530.5 397.5,525.5 415.5,525.5 416.5,518.5 420.5,518.5 420.5,512.5 423.5,511.5 423.5,509.5 424.5,509.5 424.5,506.5 425.5,506.5 430.5,505.5 430.5,493.5 430.5,490.5 432.5,490.5 432.5,488.5 433.5,488.5 446.5,487.5 446.5,481.5 453.5,481.5" stroke="#8a5c90" stroke-width="1.2" fill="none" stroke-linejoin="miter" opacity="0.7"/></g>
<g><path d="M491.2 481.2V658.2M487.7 658.2H681.4" stroke="#444" stroke-width="1" fill="none"/><path d="M497.80 658.2V661.4000000000001M487.7 622.80H491.2M533.22 658.2V661.4000000000001M487.7 587.40H491.2M568.64 658.2V661.4000000000001M487.7 552.00H491.2M604.06 658.2V661.4000000000001M487.7 516.60H491.2M639.48 658.2V661.4000000000001M487.7 481.20H491.2M674.90 658.2V661.4000000000001" stroke="#444" stroke-width="1" fill="none"/><text transform="translate(487.00,660.80) scale(0.84,1)" font-size="7.6" text-anchor="end" fill="#2a2a2a" class="s">0.0</text><text transform="translate(497.80,668.00) scale(0.84,1)" font-size="7.6" text-anchor="middle" fill="#2a2a2a" class="s">0.0</text><text transform="translate(487.00,625.40) scale(0.84,1)" font-size="7.6" text-anchor="end" fill="#2a2a2a" class="s">0.2</text><text transform="translate(533.22,668.00) scale(0.84,1)" font-size="7.6" text-anchor="middle" fill="#2a2a2a" class="s">0.2</text><text transform="translate(487.00,590.00) scale(0.84,1)" font-size="7.6" text-anchor="end" fill="#2a2a2a" class="s">0.4</text><text transform="translate(568.64,668.00) scale(0.84,1)" font-size="7.6" text-anchor="middle" fill="#2a2a2a" class="s">0.4</text><text transform="translate(487.00,554.60) scale(0.84,1)" font-size="7.6" text-anchor="end" fill="#2a2a2a" class="s">0.6</text><text transform="translate(604.06,668.00) scale(0.84,1)" font-size="7.6" text-anchor="middle" fill="#2a2a2a" class="s">0.6</text><text transform="translate(487.00,519.20) scale(0.84,1)" font-size="7.6" text-anchor="end" fill="#2a2a2a" class="s">0.8</text><text transform="translate(639.48,668.00) scale(0.84,1)" font-size="7.6" text-anchor="middle" fill="#2a2a2a" class="s">0.8</text><text transform="translate(487.00,483.80) scale(0.84,1)" font-size="7.6" text-anchor="end" fill="#2a2a2a" class="s">1.0</text><text transform="translate(674.90,668.00) scale(0.84,1)" font-size="7.6" text-anchor="middle" fill="#2a2a2a" class="s">1.0</text><text x="586.50" y="679.40" font-size="7.4" text-anchor="middle" fill="#2a2a2a" class="s">Specificity</text><text transform="translate(470.70,570.20) rotate(-90)" font-size="7.4" text-anchor="middle" fill="#2a2a2a" class="s">Sensitivity</text><text x="572.55" y="471.70" font-size="7.4" text-anchor="middle" fill="#2a2a2a" class="s">ROC curve</text><path d="M508.1 489.30H516.8000000000001" stroke="#b4b4d8" stroke-width="1" fill="none"/><text x="519.6" y="492.00" font-size="7.4" fill="#2a2a2a" class="s">NLR</text><path d="M508.1 498.65H516.8000000000001" stroke="#8cc49a" stroke-width="1" fill="none"/><text x="519.6" y="501.35" font-size="7.4" fill="#2a2a2a" class="s">dNLR</text><path d="M508.1 508.00H516.8000000000001" stroke="#c0a0c4" stroke-width="1" fill="none"/><text x="519.6" y="510.70" font-size="7.4" fill="#2a2a2a" class="s">M/GLR</text><path d="M497.5,657.5 497.5,651.5 500.5,651.5 501.5,646.5 501.5,642.5 502.5,642.5 502.5,640.5 504.5,640.5 505.5,636.5 505.5,633.5 506.5,633.5 506.5,630.5 507.5,630.5 507.5,623.5 507.5,621.5 510.5,621.5 510.5,617.5 511.5,617.5 515.5,616.5 515.5,612.5 517.5,612.5 517.5,609.5 518.5,609.5 522.5,608.5 522.5,605.5 522.5,602.5 523.5,602.5 523.5,599.5 523.5,597.5 526.5,597.5 526.5,595.5 529.5,595.5 529.5,592.5 531.5,592.5 531.5,590.5 532.5,590.5 532.5,588.5 535.5,588.5 537.5,588.5 537.5,587.5 540.5,587.5 540.5,586.5 542.5,586.5 542.5,584.5 544.5,584.5 548.5,583.5 548.5,581.5 548.5,579.5 551.5,579.5 555.5,578.5 559.5,577.5 560.5,572.5 561.5,571.5 574.5,571.5 575.5,568.5 575.5,565.5 577.5,565.5 577.5,561.5 579.5,561.5 579.5,560.5 583.5,560.5 583.5,557.5 584.5,557.5 591.5,557.5 591.5,553.5 591.5,548.5 593.5,548.5 594.5,545.5 600.5,545.5 601.5,540.5 607.5,540.5 607.5,537.5 608.5,537.5 608.5,535.5 609.5,535.5 609.5,533.5 611.5,533.5 611.5,530.5 612.5,530.5 612.5,528.5 614.5,528.5 614.5,525.5 615.5,525.5 615.5,524.5 618.5,524.5 620.5,524.5 620.5,521.5 621.5,521.5 621.5,519.5 622.5,519.5 622.5,516.5 623.5,516.5 623.5,513.5 624.5,513.5 624.5,509.5 624.5,506.5 625.5,506.5 635.5,505.5 635.5,503.5 637.5,503.5 639.5,502.5 639.5,500.5 640.5,500.5 640.5,499.5 643.5,499.5 643.5,497.5 645.5,497.5 645.5,495.5 647.5,495.5 647.5,491.5 649.5,491.5 650.5,489.5 650.5,488.5 651.5,488.5 660.5,488.5 660.5,484.5 660.5,481.5 662.5,481.5 673.5,481.5" stroke="#6cab72" stroke-width="1.2" fill="none" stroke-linejoin="miter" opacity="0.7"/><path d="M497.5,657.5 498.5,655.5 498.5,653.5 501.5,653.5 502.5,648.5 502.5,640.5 503.5,637.5 503.5,633.5 505.5,633.5 505.5,629.5 507.5,629.5 507.5,626.5 508.5,626.5 510.5,626.5 510.5,623.5 512.5,623.5 514.5,623.5 519.5,622.5 519.5,618.5 521.5,618.5 521.5,616.5 522.5,616.5 526.5,616.5 527.5,607.5 527.5,604.5 529.5,604.5 529.5,602.5 531.5,602.5 531.5,599.5 533.5,599.5 533.5,595.5 534.5,595.5 534.5,591.5 536.5,591.5 536.5,589.5 537.5,589.5 537.5,586.5 537.5,583.5 540.5,583.5 540.5,582.5 544.5,582.5 544.5,580.5 547.5,580.5 547.5,579.5 550.5,579.5 550.5,577.5 553.5,577.5 553.5,575.5 555.5,575.5 559.5,575.5 559.5,571.5 560.5,571.5 560.5,567.5 561.5,567.5 565.5,567.5 565.5,564.5 566.5,564.5 566.5,561.5 575.5,561.5 575.5,557.5 577.5,557.5 577.5,551.5 577.5,548.5 581.5,548.5 587.5,547.5 587.5,543.5 590.5,543.5 590.5,540.5 594.5,540.5 600.5,540.5 601.5,536.5 608.5,536.5 609.5,533.5 609.5,531.5 611.5,531.5 611.5,524.5 611.5,522.5 614.5,522.5 614.5,519.5 616.5,519.5 620.5,518.5 620.5,512.5 624.5,511.5 625.5,507.5 625.5,505.5 627.5,505.5 636.5,505.5 636.5,502.5 637.5,502.5 637.5,498.5 639.5,498.5 643.5,497.5 643.5,496.5 644.5,496.5 644.5,494.5 647.5,494.5 647.5,492.5 648.5,492.5 648.5,490.5 650.5,490.5 650.5,484.5 658.5,484.5 658.5,481.5 661.5,481.5 673.5,481.5" stroke="#7777bc" stroke-width="1.2" fill="none" stroke-linejoin="miter" opacity="0.7"/><path d="M497.5,657.5 497.5,655.5 498.5,655.5 498.5,652.5 499.5,652.5 501.5,652.5 502.5,648.5 502.5,645.5 502.5,642.5 503.5,642.5 503.5,640.5 503.5,636.5 504.5,636.5 504.5,633.5 505.5,633.5 505.5,630.5 506.5,630.5 506.5,627.5 507.5,627.5 507.5,626.5 509.5,626.5 509.5,623.5 512.5,623.5 512.5,621.5 514.5,621.5 518.5,621.5 518.5,617.5 519.5,617.5 519.5,614.5 521.5,614.5 521.5,611.5 522.5,611.5 522.5,608.5 523.5,608.5 523.5,605.5 523.5,602.5 524.5,602.5 524.5,599.5 525.5,599.5 525.5,598.5 529.5,598.5 529.5,594.5 530.5,594.5 530.5,592.5 533.5,592.5 533.5,588.5 535.5,588.5 535.5,585.5 537.5,585.5 537.5,583.5 540.5,583.5 540.5,582.5 544.5,582.5 544.5,580.5 547.5,580.5 547.5,579.5 550.5,579.5 550.5,577.5 553.5,577.5 553.5,575.5 555.5,575.5 559.5,575.5 559.5,571.5 560.5,571.5 560.5,568.5 560.5,565.5 560.5,561.5 561.5,561.5 566.5,561.5 575.5,560.5 575.5,557.5 577.5,557.5 583.5,557.5 583.5,554.5 585.5,554.5 585.5,551.5 587.5,551.5 587.5,547.5 590.5,547.5 590.5,542.5 593.5,542.5 594.5,540.5 600.5,539.5 608.5,539.5 608.5,537.5 609.5,537.5 609.5,534.5 610.5,534.5 610.5,531.5 613.5,531.5 613.5,529.5 614.5,529.5 614.5,526.5 619.5,525.5 619.5,522.5 620.5,522.5 620.5,519.5 621.5,519.5 621.5,516.5 622.5,516.5 622.5,512.5 624.5,512.5 631.5,511.5 631.5,509.5 633.5,509.5 637.5,508.5 638.5,502.5 638.5,499.5 642.5,499.5 645.5,498.5 645.5,496.5 647.5,496.5 647.5,493.5 648.5,493.5 648.5,490.5 650.5,490.5 650.5,484.5 657.5,484.5 666.5,484.5 666.5,481.5 673.5,481.5" stroke="#8a5c90" stroke-width="1.2" fill="none" stroke-linejoin="miter" opacity="0.7"/></g>
<g><path d="M50.6 703.3V880.3M47.1 880.3H240.6" stroke="#444" stroke-width="1" fill="none"/><path d="M57.30 880.3V883.5M47.1 844.90H50.6M92.66 880.3V883.5M47.1 809.50H50.6M128.02 880.3V883.5M47.1 774.10H50.6M163.38 880.3V883.5M47.1 738.70H50.6M198.74 880.3V883.5M47.1 703.30H50.6M234.10 880.3V883.5" stroke="#444" stroke-width="1" fill="none"/><text transform="translate(46.40,882.90) scale(0.84,1)" font-size="7.6" text-anchor="end" fill="#2a2a2a" class="s">0.0</text><text transform="translate(57.30,890.10) scale(0.84,1)" font-size="7.6" text-anchor="middle" fill="#2a2a2a" class="s">0.0</text><text transform="translate(46.40,847.50) scale(0.84,1)" font-size="7.6" text-anchor="end" fill="#2a2a2a" class="s">0.2</text><text transform="translate(92.66,890.10) scale(0.84,1)" font-size="7.6" text-anchor="middle" fill="#2a2a2a" class="s">0.2</text><text transform="translate(46.40,812.10) scale(0.84,1)" font-size="7.6" text-anchor="end" fill="#2a2a2a" class="s">0.4</text><text transform="translate(128.02,890.10) scale(0.84,1)" font-size="7.6" text-anchor="middle" fill="#2a2a2a" class="s">0.4</text><text transform="translate(46.40,776.70) scale(0.84,1)" font-size="7.6" text-anchor="end" fill="#2a2a2a" class="s">0.6</text><text transform="translate(163.38,890.10) scale(0.84,1)" font-size="7.6" text-anchor="middle" fill="#2a2a2a" class="s">0.6</text><text transform="translate(46.40,741.30) scale(0.84,1)" font-size="7.6" text-anchor="end" fill="#2a2a2a" class="s">0.8</text><text transform="translate(198.74,890.10) scale(0.84,1)" font-size="7.6" text-anchor="middle" fill="#2a2a2a" class="s">0.8</text><text transform="translate(46.40,705.90) scale(0.84,1)" font-size="7.6" text-anchor="end" fill="#2a2a2a" class="s">1.0</text><text transform="translate(234.10,890.10) scale(0.84,1)" font-size="7.6" text-anchor="middle" fill="#2a2a2a" class="s">1.0</text><text x="145.35" y="900.80" font-size="7.4" text-anchor="middle" fill="#2a2a2a" class="s">Specificity</text><text transform="translate(29.90,792.60) rotate(-90)" font-size="7.4" text-anchor="middle" fill="#2a2a2a" class="s">Sensitivity</text><text x="131.90" y="693.30" font-size="7.4" text-anchor="middle" fill="#2a2a2a" class="s">ROC curve</text><path d="M67.2 712.60H75.9" stroke="#b4b4d8" stroke-width="1" fill="none"/><text x="78.9" y="715.30" font-size="7.4" fill="#2a2a2a" class="s">NLR</text><path d="M67.2 721.90H75.9" stroke="#8cc49a" stroke-width="1" fill="none"/><text x="78.9" y="724.60" font-size="7.4" fill="#2a2a2a" class="s">dNLR</text><path d="M67.2 731.20H75.9" stroke="#c0a0c4" stroke-width="1" fill="none"/><text x="78.9" y="733.90" font-size="7.4" fill="#2a2a2a" class="s">M/GLR</text><path d="M57.5,880.5 78.5,880.5 78.5,836.5 98.5,836.5 98.5,791.5 138.5,791.5 140.5,747.5 222.5,747.5 222.5,703.5 234.5,703.5" stroke="#6cab72" stroke-width="1.2" fill="none" stroke-linejoin="miter" opacity="0.7"/><path d="M57.5,880.5 78.5,880.5 78.5,836.5 86.5,836.5 86.5,791.5 118.5,791.5 118.5,747.5 224.5,747.5 224.5,703.5 234.5,703.5" stroke="#7777bc" stroke-width="1.2" fill="none" stroke-linejoin="miter" opacity="0.7"/><path d="M57.5,880.5 76.5,880.5 76.5,836.5 84.5,836.5 84.5,791.5 107.5,791.5 110.5,747.5 221.5,747.5 221.5,703.5 234.5,703.5" stroke="#8a5c90" stroke-width="1.2" fill="none" stroke-linejoin="miter" opacity="0.7"/></g>
<g><path d="M270.0 703.5V880.4M266.5 880.4H459.8" stroke="#444" stroke-width="1" fill="none"/><path d="M276.30 880.4V883.6M266.5 845.02H270.0M311.70 880.4V883.6M266.5 809.64H270.0M347.10 880.4V883.6M266.5 774.26H270.0M382.50 880.4V883.6M266.5 738.88H270.0M417.90 880.4V883.6M266.5 703.50H270.0M453.30 880.4V883.6" stroke="#444" stroke-width="1" fill="none"/><text transform="translate(265.80,883.00) scale(0.84,1)" font-size="7.6" text-anchor="end" fill="#2a2a2a" class="s">0.0</text><text transform="translate(276.30,890.20) scale(0.84,1)" font-size="7.6" text-anchor="middle" fill="#2a2a2a" class="s">0.0</text><text transform="translate(265.80,847.62) scale(0.84,1)" font-size="7.6" text-anchor="end" fill="#2a2a2a" class="s">0.2</text><text transform="translate(311.70,890.20) scale(0.84,1)" font-size="7.6" text-anchor="middle" fill="#2a2a2a" class="s">0.2</text><text transform="translate(265.80,812.24) scale(0.84,1)" font-size="7.6" text-anchor="end" fill="#2a2a2a" class="s">0.4</text><text transform="translate(347.10,890.20) scale(0.84,1)" font-size="7.6" text-anchor="middle" fill="#2a2a2a" class="s">0.4</text><text transform="translate(265.80,776.86) scale(0.84,1)" font-size="7.6" text-anchor="end" fill="#2a2a2a" class="s">0.6</text><text transform="translate(382.50,890.20) scale(0.84,1)" font-size="7.6" text-anchor="middle" fill="#2a2a2a" class="s">0.6</text><text transform="translate(265.80,741.48) scale(0.84,1)" font-size="7.6" text-anchor="end" fill="#2a2a2a" class="s">0.8</text><text transform="translate(417.90,890.20) scale(0.84,1)" font-size="7.6" text-anchor="middle" fill="#2a2a2a" class="s">0.8</text><text transform="translate(265.80,706.10) scale(0.84,1)" font-size="7.6" text-anchor="end" fill="#2a2a2a" class="s">1.0</text><text transform="translate(453.30,890.20) scale(0.84,1)" font-size="7.6" text-anchor="middle" fill="#2a2a2a" class="s">1.0</text><text x="365.20" y="901.20" font-size="7.4" text-anchor="middle" fill="#2a2a2a" class="s">Specificity</text><text transform="translate(249.90,792.40) rotate(-90)" font-size="7.4" text-anchor="middle" fill="#2a2a2a" class="s">Sensitivity</text><text x="350.90" y="694.30" font-size="7.4" text-anchor="middle" fill="#2a2a2a" class="s">ROC curve</text><path d="M287.2 713.30H295.9" stroke="#b4b4d8" stroke-width="1" fill="none"/><text x="298.0" y="716.00" font-size="7.4" fill="#2a2a2a" class="s">NLR</text><path d="M287.2 722.85H295.9" stroke="#8cc49a" stroke-width="1" fill="none"/><text x="298.0" y="725.55" font-size="7.4" fill="#2a2a2a" class="s">dNLR</text><path d="M287.2 732.40H295.9" stroke="#c0a0c4" stroke-width="1" fill="none"/><text x="298.0" y="735.10" font-size="7.4" fill="#2a2a2a" class="s">M/GLR</text><path d="M276.5,880.5 276.5,877.5 278.5,877.5 278.5,875.5 279.5,875.5 279.5,873.5 280.5,873.5 280.5,870.5 281.5,870.5 281.5,867.5 282.5,867.5 282.5,864.5 283.5,864.5 283.5,862.5 285.5,862.5 285.5,860.5 287.5,860.5 287.5,859.5 289.5,859.5 289.5,856.5 291.5,856.5 291.5,854.5 294.5,854.5 294.5,851.5 295.5,851.5 295.5,848.5 296.5,848.5 296.5,846.5 297.5,846.5 298.5,840.5 300.5,840.5 300.5,837.5 301.5,837.5 301.5,836.5 303.5,836.5 303.5,833.5 305.5,833.5 305.5,831.5 308.5,831.5 308.5,829.5 308.5,827.5 309.5,827.5 309.5,824.5 310.5,824.5 310.5,821.5 310.5,819.5 313.5,819.5 313.5,816.5 315.5,816.5 315.5,814.5 316.5,814.5 316.5,812.5 317.5,812.5 317.5,810.5 318.5,810.5 318.5,807.5 321.5,807.5 321.5,805.5 322.5,805.5 322.5,802.5 323.5,802.5 323.5,800.5 324.5,800.5 324.5,799.5 327.5,799.5 330.5,799.5 330.5,789.5 337.5,789.5 337.5,786.5 338.5,786.5 338.5,784.5 338.5,781.5 338.5,779.5 339.5,779.5 339.5,777.5 340.5,777.5 347.5,776.5 347.5,774.5 350.5,774.5 350.5,773.5 352.5,773.5 352.5,771.5 354.5,771.5 354.5,769.5 355.5,769.5 355.5,767.5 357.5,767.5 357.5,765.5 358.5,765.5 358.5,763.5 359.5,763.5 359.5,761.5 361.5,761.5 361.5,760.5 362.5,760.5 382.5,760.5 383.5,759.5 386.5,758.5 386.5,755.5 388.5,755.5 388.5,753.5 389.5,753.5 389.5,750.5 390.5,750.5 390.5,749.5 391.5,749.5 400.5,748.5 400.5,747.5 408.5,746.5 409.5,741.5 414.5,741.5 414.5,740.5 416.5,740.5 416.5,737.5 416.5,734.5 419.5,734.5 419.5,733.5 421.5,733.5 421.5,730.5 425.5,730.5 425.5,728.5 427.5,728.5 427.5,726.5 430.5,726.5 430.5,724.5 433.5,724.5 433.5,723.5 436.5,723.5 436.5,721.5 439.5,721.5 439.5,719.5 439.5,717.5 440.5,717.5 440.5,715.5 440.5,712.5 441.5,712.5 441.5,710.5 443.5,710.5 443.5,709.5 445.5,709.5 448.5,709.5 448.5,708.5 450.5,708.5 450.5,706.5 451.5,706.5 451.5,703.5 452.5,703.5" stroke="#6cab72" stroke-width="1.2" fill="none" stroke-linejoin="miter" opacity="0.7"/><path d="M276.5,880.5 276.5,878.5 276.5,875.5 277.5,875.5 277.5,873.5 278.5,873.5 278.5,871.5 279.5,871.5 279.5,868.5 281.5,868.5 281.5,866.5 281.5,864.5 282.5,864.5 282.5,862.5 284.5,862.5 286.5,861.5 286.5,859.5 289.5,859.5 289.5,856.5 291.5,856.5 291.5,854.5 293.5,854.5 293.5,851.5 294.5,851.5 294.5,848.5 295.5,848.5 295.5,846.5 296.5,846.5 299.5,846.5 299.5,843.5 299.5,841.5 300.5,841.5 300.5,839.5 300.5,837.5 301.5,837.5 301.5,835.5 302.5,835.5 302.5,832.5 302.5,830.5 303.5,830.5 303.5,828.5 304.5,828.5 304.5,825.5 304.5,823.5 305.5,823.5 305.5,821.5 308.5,821.5 308.5,819.5 310.5,819.5 310.5,818.5 313.5,818.5 313.5,817.5 315.5,817.5 315.5,816.5 317.5,816.5 317.5,813.5 318.5,813.5 318.5,811.5 318.5,808.5 319.5,808.5 319.5,805.5 320.5,805.5 320.5,802.5 321.5,802.5 321.5,799.5 322.5,799.5 322.5,795.5 324.5,795.5 324.5,793.5 325.5,793.5 325.5,791.5 327.5,791.5 327.5,788.5 328.5,788.5 328.5,785.5 329.5,785.5 330.5,784.5 330.5,782.5 330.5,780.5 331.5,780.5 331.5,778.5 333.5,778.5 339.5,778.5 340.5,777.5 347.5,776.5 347.5,775.5 349.5,775.5 349.5,774.5 351.5,774.5 351.5,771.5 354.5,771.5 354.5,768.5 356.5,768.5 356.5,766.5 358.5,766.5 358.5,763.5 359.5,763.5 359.5,761.5 360.5,761.5 361.5,758.5 361.5,756.5 363.5,756.5 363.5,754.5 366.5,754.5 366.5,753.5 369.5,753.5 373.5,752.5 373.5,751.5 376.5,751.5 376.5,749.5 379.5,749.5 379.5,747.5 381.5,747.5 381.5,743.5 383.5,743.5 385.5,743.5 385.5,742.5 387.5,742.5 397.5,741.5 397.5,740.5 399.5,740.5 399.5,739.5 401.5,739.5 401.5,738.5 403.5,738.5 403.5,737.5 406.5,737.5 409.5,737.5 409.5,734.5 412.5,734.5 412.5,733.5 414.5,733.5 416.5,733.5 416.5,732.5 420.5,732.5 420.5,730.5 423.5,730.5 423.5,728.5 425.5,728.5 425.5,727.5 427.5,727.5 429.5,727.5 429.5,724.5 431.5,724.5 431.5,722.5 433.5,722.5 433.5,720.5 434.5,720.5 434.5,717.5 435.5,717.5 435.5,716.5 437.5,716.5 437.5,715.5 439.5,715.5 439.5,713.5 439.5,711.5 440.5,711.5 440.5,709.5 442.5,709.5 448.5,709.5 448.5,706.5 450.5,706.5 450.5,703.5 452.5,703.5" stroke="#7777bc" stroke-width="1.2" fill="none" stroke-linejoin="miter" opacity="0.7"/><path d="M276.5,880.5 276.5,878.5 276.5,875.5 277.5,875.5 277.5,873.5 278.5,873.5 278.5,871.5 279.5,871.5 279.5,868.5 281.5,868.5 281.5,866.5 281.5,864.5 282.5,864.5 282.5,862.5 284.5,862.5 286.5,861.5 286.5,859.5 289.5,859.5 289.5,856.5 291.5,856.5 291.5,854.5 293.5,854.5 293.5,851.5 294.5,851.5 294.5,848.5 295.5,848.5 295.5,846.5 296.5,846.5 299.5,846.5 299.5,843.5 299.5,841.5 300.5,841.5 300.5,839.5 300.5,837.5 301.5,837.5 301.5,835.5 302.5,835.5 302.5,832.5 302.5,830.5 303.5,830.5 303.5,828.5 304.5,828.5 304.5,825.5 304.5,823.5 305.5,823.5 305.5,821.5 308.5,821.5 308.5,819.5 310.5,819.5 312.5,819.5 312.5,816.5 313.5,816.5 313.5,814.5 315.5,814.5 315.5,811.5 317.5,811.5 317.5,809.5 318.5,809.5 318.5,807.5 319.5,807.5 319.5,805.5 320.5,805.5 320.5,802.5 321.5,802.5 321.5,799.5 322.5,799.5 322.5,796.5 324.5,796.5 324.5,792.5 327.5,792.5 327.5,790.5 328.5,790.5 328.5,787.5 329.5,787.5 330.5,785.5 332.5,785.5 332.5,783.5 335.5,783.5 335.5,781.5 337.5,781.5 337.5,779.5 339.5,779.5 339.5,776.5 340.5,776.5 341.5,772.5 341.5,770.5 343.5,770.5 343.5,768.5 345.5,768.5 345.5,765.5 347.5,765.5 348.5,763.5 356.5,762.5 356.5,760.5 358.5,760.5 358.5,758.5 361.5,758.5 361.5,755.5 364.5,755.5 364.5,754.5 366.5,754.5 366.5,753.5 368.5,753.5 370.5,753.5 370.5,752.5 372.5,752.5 372.5,750.5 375.5,750.5 375.5,749.5 377.5,749.5 379.5,749.5 379.5,745.5 382.5,745.5 382.5,743.5 385.5,743.5 385.5,741.5 387.5,741.5 387.5,740.5 390.5,740.5 391.5,740.5 391.5,737.5 394.5,737.5 396.5,737.5 396.5,736.5 399.5,736.5 401.5,736.5 401.5,733.5 403.5,733.5 403.5,732.5 405.5,732.5 405.5,731.5 407.5,731.5 410.5,731.5 410.5,730.5 412.5,730.5 415.5,730.5 415.5,728.5 416.5,728.5 416.5,727.5 418.5,727.5 418.5,726.5 421.5,726.5 421.5,723.5 423.5,723.5 423.5,722.5 426.5,722.5 426.5,719.5 428.5,719.5 431.5,719.5 431.5,718.5 433.5,718.5 433.5,716.5 435.5,716.5 435.5,713.5 438.5,713.5 438.5,710.5 440.5,710.5 443.5,710.5 443.5,709.5 445.5,709.5 448.5,709.5 448.5,707.5 451.5,707.5 451.5,703.5 452.5,703.5" stroke="#8a5c90" stroke-width="1.2" fill="none" stroke-linejoin="miter" opacity="0.7"/></g>
<g><path d="M490.8 701.7V878.6M487.3 878.6H680.9" stroke="#444" stroke-width="1" fill="none"/><path d="M497.40 878.6V881.8000000000001M487.3 843.22H490.8M532.80 878.6V881.8000000000001M487.3 807.84H490.8M568.20 878.6V881.8000000000001M487.3 772.46H490.8M603.60 878.6V881.8000000000001M487.3 737.08H490.8M639.00 878.6V881.8000000000001M487.3 701.70H490.8M674.40 878.6V881.8000000000001" stroke="#444" stroke-width="1" fill="none"/><text transform="translate(486.60,881.20) scale(0.84,1)" font-size="7.6" text-anchor="end" fill="#2a2a2a" class="s">0.0</text><text transform="translate(497.40,888.40) scale(0.84,1)" font-size="7.6" text-anchor="middle" fill="#2a2a2a" class="s">0.0</text><text transform="translate(486.60,845.82) scale(0.84,1)" font-size="7.6" text-anchor="end" fill="#2a2a2a" class="s">0.2</text><text transform="translate(532.80,888.40) scale(0.84,1)" font-size="7.6" text-anchor="middle" fill="#2a2a2a" class="s">0.2</text><text transform="translate(486.60,810.44) scale(0.84,1)" font-size="7.6" text-anchor="end" fill="#2a2a2a" class="s">0.4</text><text transform="translate(568.20,888.40) scale(0.84,1)" font-size="7.6" text-anchor="middle" fill="#2a2a2a" class="s">0.4</text><text transform="translate(486.60,775.06) scale(0.84,1)" font-size="7.6" text-anchor="end" fill="#2a2a2a" class="s">0.6</text><text transform="translate(603.60,888.40) scale(0.84,1)" font-size="7.6" text-anchor="middle" fill="#2a2a2a" class="s">0.6</text><text transform="translate(486.60,739.68) scale(0.84,1)" font-size="7.6" text-anchor="end" fill="#2a2a2a" class="s">0.8</text><text transform="translate(639.00,888.40) scale(0.84,1)" font-size="7.6" text-anchor="middle" fill="#2a2a2a" class="s">0.8</text><text transform="translate(486.60,704.30) scale(0.84,1)" font-size="7.6" text-anchor="end" fill="#2a2a2a" class="s">1.0</text><text transform="translate(674.40,888.40) scale(0.84,1)" font-size="7.6" text-anchor="middle" fill="#2a2a2a" class="s">1.0</text><text x="586.35" y="899.90" font-size="7.4" text-anchor="middle" fill="#2a2a2a" class="s">Specificity</text><text transform="translate(471.00,790.60) rotate(-90)" font-size="7.4" text-anchor="middle" fill="#2a2a2a" class="s">Sensitivity</text><text x="571.05" y="693.00" font-size="7.4" text-anchor="middle" fill="#2a2a2a" class="s">ROC curve</text><path d="M507.7 710.50H516.4" stroke="#b4b4d8" stroke-width="1" fill="none"/><text x="518.9" y="713.20" font-size="7.4" fill="#2a2a2a" class="s">NLR</text><path d="M507.7 719.85H516.4" stroke="#8cc49a" stroke-width="1" fill="none"/><text x="518.9" y="722.55" font-size="7.4" fill="#2a2a2a" class="s">dNLR</text><path d="M507.7 729.20H516.4" stroke="#c0a0c4" stroke-width="1" fill="none"/><text x="518.9" y="731.90" font-size="7.4" fill="#2a2a2a" class="s">M/GLR</text><path d="M497.5,878.5 497.5,876.5 498.5,876.5 501.5,875.5 501.5,873.5 502.5,873.5 502.5,871.5 504.5,871.5 504.5,867.5 506.5,867.5 506.5,865.5 508.5,865.5 508.5,863.5 511.5,863.5 511.5,861.5 513.5,861.5 513.5,857.5 515.5,857.5 515.5,855.5 516.5,855.5 516.5,853.5 518.5,853.5 521.5,852.5 524.5,852.5 525.5,847.5 525.5,845.5 526.5,845.5 526.5,842.5 526.5,838.5 529.5,838.5 529.5,836.5 530.5,836.5 530.5,834.5 531.5,834.5 531.5,831.5 532.5,831.5 532.5,828.5 533.5,828.5 533.5,825.5 534.5,825.5 534.5,824.5 536.5,824.5 536.5,822.5 537.5,822.5 537.5,819.5 537.5,817.5 539.5,817.5 539.5,815.5 542.5,815.5 542.5,812.5 544.5,812.5 544.5,809.5 546.5,809.5 546.5,807.5 548.5,807.5 548.5,803.5 550.5,803.5 550.5,801.5 552.5,801.5 555.5,801.5 555.5,800.5 558.5,800.5 558.5,798.5 559.5,798.5 559.5,795.5 561.5,795.5 561.5,792.5 564.5,792.5 564.5,790.5 566.5,790.5 566.5,788.5 569.5,788.5 569.5,786.5 573.5,786.5 573.5,783.5 576.5,783.5 576.5,781.5 578.5,781.5 578.5,779.5 581.5,779.5 581.5,777.5 583.5,777.5 583.5,774.5 585.5,774.5 590.5,773.5 594.5,773.5 594.5,771.5 595.5,771.5 595.5,768.5 598.5,768.5 598.5,765.5 600.5,765.5 600.5,762.5 602.5,762.5 602.5,759.5 605.5,759.5 605.5,757.5 607.5,757.5 607.5,754.5 609.5,754.5 609.5,752.5 611.5,752.5 614.5,752.5 616.5,752.5 618.5,752.5 621.5,752.5 621.5,748.5 623.5,748.5 623.5,745.5 626.5,745.5 626.5,742.5 630.5,742.5 630.5,739.5 631.5,739.5 631.5,737.5 634.5,737.5 634.5,735.5 636.5,735.5 636.5,733.5 637.5,733.5 637.5,731.5 641.5,731.5 641.5,729.5 644.5,729.5 644.5,727.5 647.5,727.5 647.5,725.5 651.5,725.5 651.5,721.5 654.5,721.5 654.5,719.5 658.5,719.5 658.5,718.5 660.5,718.5 663.5,718.5 663.5,715.5 663.5,713.5 664.5,713.5 664.5,710.5 668.5,710.5 668.5,708.5 671.5,708.5 671.5,705.5 672.5,705.5 672.5,702.5 673.5,702.5" stroke="#6cab72" stroke-width="1.2" fill="none" stroke-linejoin="miter" opacity="0.7"/><path d="M497.5,878.5 497.5,871.5 497.5,870.5 499.5,870.5 499.5,867.5 502.5,867.5 502.5,865.5 505.5,865.5 505.5,863.5 508.5,863.5 508.5,861.5 511.5,861.5 511.5,860.5 514.5,860.5 514.5,856.5 516.5,856.5 516.5,854.5 517.5,854.5 517.5,852.5 518.5,852.5 521.5,852.5 521.5,850.5 523.5,850.5 524.5,838.5 524.5,835.5 526.5,835.5 526.5,833.5 528.5,833.5 528.5,830.5 529.5,830.5 529.5,828.5 529.5,826.5 531.5,826.5 531.5,825.5 535.5,825.5 535.5,821.5 537.5,821.5 537.5,817.5 537.5,814.5 539.5,814.5 539.5,811.5 541.5,811.5 541.5,807.5 543.5,807.5 543.5,805.5 545.5,805.5 545.5,802.5 548.5,802.5 548.5,799.5 550.5,799.5 550.5,796.5 552.5,796.5 552.5,794.5 553.5,794.5 553.5,792.5 556.5,792.5 556.5,789.5 559.5,789.5 559.5,788.5 561.5,788.5 561.5,787.5 564.5,787.5 564.5,785.5 566.5,785.5 566.5,784.5 568.5,784.5 568.5,780.5 571.5,780.5 571.5,779.5 575.5,779.5 575.5,775.5 577.5,775.5 577.5,773.5 579.5,773.5 579.5,771.5 581.5,771.5 581.5,768.5 583.5,768.5 583.5,767.5 585.5,767.5 585.5,765.5 587.5,765.5 591.5,764.5 593.5,764.5 597.5,763.5 597.5,762.5 600.5,762.5 600.5,759.5 602.5,759.5 602.5,758.5 604.5,758.5 604.5,757.5 606.5,757.5 606.5,755.5 610.5,755.5 610.5,752.5 611.5,752.5 611.5,750.5 612.5,750.5 612.5,748.5 613.5,748.5 613.5,745.5 614.5,745.5 614.5,743.5 616.5,743.5 616.5,741.5 617.5,741.5 617.5,739.5 619.5,739.5 621.5,739.5 621.5,738.5 623.5,738.5 625.5,738.5 625.5,737.5 627.5,737.5 627.5,736.5 631.5,736.5 631.5,733.5 634.5,733.5 634.5,731.5 637.5,731.5 637.5,730.5 641.5,730.5 641.5,727.5 644.5,727.5 644.5,724.5 647.5,724.5 647.5,721.5 651.5,721.5 651.5,719.5 654.5,719.5 654.5,716.5 658.5,716.5 658.5,715.5 661.5,715.5 661.5,713.5 662.5,713.5 662.5,711.5 663.5,711.5 663.5,708.5 667.5,708.5 667.5,705.5 669.5,705.5 669.5,703.5 671.5,703.5 671.5,702.5 673.5,702.5" stroke="#7777bc" stroke-width="1.2" fill="none" stroke-linejoin="miter" opacity="0.7"/><path d="M497.5,878.5 497.5,871.5 497.5,870.5 499.5,870.5 499.5,867.5 502.5,867.5 502.5,865.5 505.5,865.5 505.5,863.5 508.5,863.5 508.5,861.5 511.5,861.5 511.5,860.5 514.5,860.5 514.5,856.5 516.5,856.5 516.5,854.5 517.5,854.5 517.5,852.5 518.5,852.5 521.5,852.5 521.5,850.5 523.5,850.5 524.5,838.5 524.5,835.5 526.5,835.5 526.5,833.5 528.5,833.5 528.5,830.5 529.5,830.5 529.5,828.5 529.5,826.5 531.5,826.5 531.5,825.5 535.5,825.5 535.5,821.5 537.5,821.5 537.5,817.5 537.5,814.5 539.5,814.5 539.5,811.5 541.5,811.5 541.5,807.5 543.5,807.5 543.5,805.5 545.5,805.5 545.5,802.5 548.5,802.5 548.5,799.5 550.5,799.5 550.5,796.5 552.5,796.5 552.5,794.5 553.5,794.5 553.5,792.5 556.5,792.5 556.5,789.5 559.5,789.5 559.5,786.5 560.5,786.5 560.5,784.5 560.5,781.5 561.5,781.5 561.5,779.5 561.5,776.5 562.5,776.5 566.5,775.5 566.5,773.5 569.5,773.5 573.5,773.5 573.5,771.5 577.5,771.5 577.5,768.5 580.5,768.5 580.5,766.5 581.5,766.5 584.5,765.5 584.5,764.5 587.5,764.5 587.5,763.5 590.5,763.5 590.5,762.5 593.5,762.5 593.5,760.5 596.5,760.5 596.5,758.5 600.5,758.5 600.5,757.5 602.5,757.5 604.5,757.5 604.5,754.5 607.5,754.5 607.5,752.5 611.5,752.5 611.5,749.5 614.5,749.5 616.5,749.5 616.5,748.5 619.5,748.5 619.5,745.5 621.5,745.5 621.5,743.5 622.5,743.5 622.5,740.5 623.5,740.5 623.5,738.5 624.5,738.5 624.5,736.5 627.5,736.5 629.5,736.5 629.5,735.5 631.5,735.5 631.5,732.5 634.5,732.5 634.5,730.5 636.5,730.5 636.5,727.5 637.5,727.5 637.5,726.5 641.5,726.5 641.5,724.5 642.5,724.5 642.5,722.5 642.5,721.5 645.5,721.5 645.5,720.5 647.5,720.5 647.5,718.5 650.5,718.5 652.5,718.5 652.5,717.5 654.5,717.5 654.5,715.5 658.5,715.5 661.5,715.5 661.5,713.5 661.5,710.5 662.5,710.5 664.5,710.5 664.5,709.5 666.5,709.5 666.5,707.5 667.5,707.5 667.5,705.5 668.5,705.5 668.5,703.5 671.5,703.5 671.5,702.5 673.5,702.5" stroke="#8a5c90" stroke-width="1.2" fill="none" stroke-linejoin="miter" opacity="0.7"/></g>
</svg></body></html>
